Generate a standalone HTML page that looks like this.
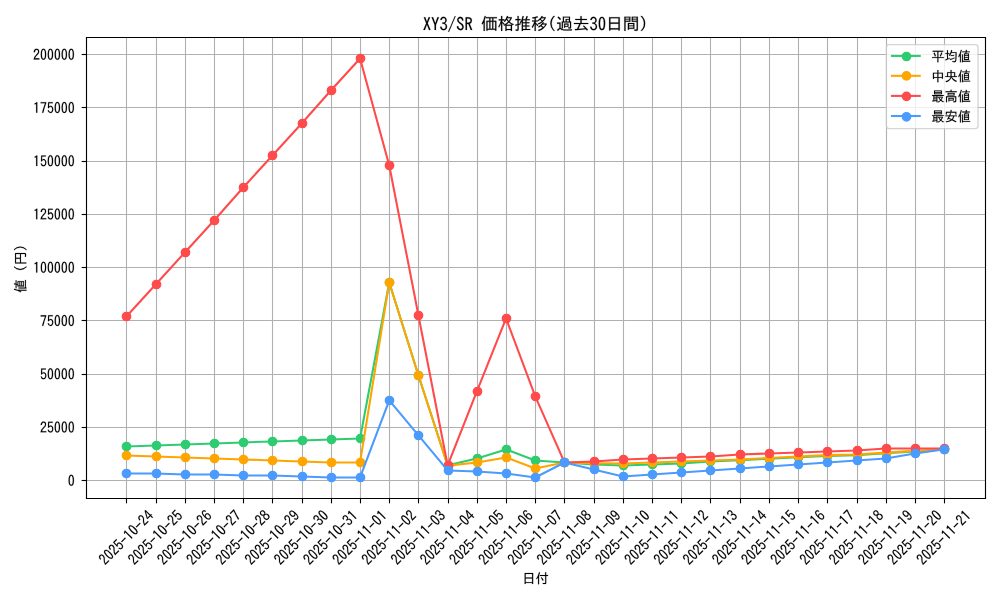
<!DOCTYPE html>
<html><head><meta charset="utf-8"><title>XY3/SR 価格推移</title>
<style>html,body{margin:0;padding:0;background:#fff;width:1000px;height:600px;overflow:hidden;font-family:"Liberation Sans",sans-serif}</style>
</head><body>
<svg width="1000" height="600" viewBox="0 0 720 432" style="display:block"> <defs> <style type="text/css">*{stroke-linejoin: round; stroke-linecap: butt}</style> </defs> <g id="figure_1"> <g id="patch_1"> <path d="M 0 432 L 720 432 L 720 0 L 0 0 z " style="fill: #ffffff"/> </g> <g id="axes_1"> <g id="patch_2"> <path d="M 61.5888 358.776 L 709.2 358.776 L 709.2 26.676 L 61.5888 26.676 z " style="fill: #ffffff"/> </g> <g id="matplotlib.axis_1"> <g id="xtick_1"> <g id="line2d_1"> <path d="M 91.0800 358.9200 L 91.0800 27.0000" clip-path="url(#p0dbeb6fd4e)" style="fill: none; stroke: #b0b0b0; stroke-width: 0.8; stroke-linecap: square"/> </g> <g id="line2d_2"> <defs> <path id="m50817923cc" d="M 0 0 L 0 3.5 " style="stroke: #000000; stroke-width: 0.8"/> </defs> <g> <use href="#m50817923cc" x="91.0800" y="358.9200" style="stroke: #000000; stroke-width: 0.8"/> </g> </g> <g id="text_1" transform="translate(-0.2160 0.5760) translate(0.0000 0) scale(1.0000 1) translate(-0.0000 0)">  <g transform="translate(75.674826 406.441269) rotate(-45) scale(0.1 -0.1)"> <defs> <path id="IPAGothic-32" d="M 2900 325 L 250 325 Q 441 1553 1528 2453 Q 1963 2806 2116 3034 Q 2316 3319 2316 3706 Q 2316 4022 2175 4219 Q 1994 4494 1631 4494 Q 894 4494 825 3406 L 322 3406 Q 359 4056 628 4428 Q 981 4928 1644 4928 Q 2106 4928 2425 4659 Q 2828 4313 2828 3713 Q 2828 2875 1881 2156 Q 1072 1541 909 800 L 2900 800 L 2900 325 z " transform="scale(0.015625)" style="stroke:#000;stroke-width:70;stroke-linejoin:miter"/> <path id="IPAGothic-30" d="M 1600 4934 Q 2844 4934 2844 2566 Q 2844 197 1600 197 Q 359 197 359 2566 Q 359 4934 1600 4934 z M 1594 4494 Q 884 4494 884 2566 Q 884 638 1600 638 Q 2319 638 2319 2572 Q 2319 4494 1594 4494 z" transform="scale(0.015625)" style="stroke:#000;stroke-width:70;stroke-linejoin:miter"/> <path id="IPAGothic-35" d="M 566 4806 L 2691 4806 L 2691 4359 L 1013 4359 L 944 2888 Q 1259 3250 1738 3250 Q 2250 3250 2588 2816 Q 2909 2397 2909 1772 Q 2909 1238 2697 844 Q 2341 197 1591 197 Q 538 197 328 1375 L 841 1375 Q 947 644 1588 644 Q 2000 644 2228 997 Q 2422 1294 2422 1766 Q 2422 2184 2259 2456 Q 2059 2822 1653 2822 Q 1156 2822 859 2225 L 456 2309 L 566 4806 z " transform="scale(0.015625)" style="stroke:#000;stroke-width:70;stroke-linejoin:miter"/> <path id="IPAGothic-2d" d="M 313 2663 L 2884 2663 L 2884 2203 L 313 2203 L 313 2663 z " transform="scale(0.015625)" style="stroke:#000;stroke-width:70;stroke-linejoin:miter"/> <path id="IPAGothic-31" d="M 1428 325 L 1428 4153 Q 1188 3991 756 3809 L 756 4325 Q 1256 4509 1563 4806 L 1953 4806 L 1953 325 L 1428 325 z " transform="scale(0.015625)" style="stroke:#000;stroke-width:70;stroke-linejoin:miter"/> <path id="IPAGothic-34" d="M 1966 4806 L 2509 4806 L 2509 1869 L 3041 1869 L 3041 1434 L 2509 1434 L 2509 325 L 2034 325 L 2034 1434 L 159 1434 L 159 1881 L 1966 4806 z M 2034 4109 L 641 1869 L 2034 1869 L 2034 4109 z " transform="scale(0.015625)" style="stroke:#000;stroke-width:70;stroke-linejoin:miter"/> </defs> <use href="#IPAGothic-32" transform="translate(0 -6.553) scale(1 1.0850)"/> <use href="#IPAGothic-30" transform="translate(50 0) translate(0 -6.553) scale(1 1.0850)"/> <use href="#IPAGothic-32" transform="translate(100 0) translate(0 -6.553) scale(1 1.0850)"/> <use href="#IPAGothic-35" transform="translate(150 0) translate(0 -6.553) scale(1 1.0850)"/> <use href="#IPAGothic-2d" transform="translate(200 0) translate(0 -6.553) scale(1 1.0850)"/> <use href="#IPAGothic-31" transform="translate(250 0) translate(0 -6.553) scale(1 1.0850)"/> <use href="#IPAGothic-30" transform="translate(300 0) translate(0 -6.553) scale(1 1.0850)"/> <use href="#IPAGothic-2d" transform="translate(350 0) translate(0 -6.553) scale(1 1.0850)"/> <use href="#IPAGothic-32" transform="translate(400 0) translate(0 -6.553) scale(1 1.0850)"/> <use href="#IPAGothic-34" transform="translate(450 0) translate(0 -6.553) scale(1 1.0850)"/> </g> </g> </g> <g id="xtick_2"> <g id="line2d_3"> <path d="M 112.6800 358.9200 L 112.6800 27.0000" clip-path="url(#p0dbeb6fd4e)" style="fill: none; stroke: #b0b0b0; stroke-width: 0.8; stroke-linecap: square"/> </g> <g id="line2d_4"> <g> <use href="#m50817923cc" x="112.6800" y="358.9200" style="stroke: #000000; stroke-width: 0.8"/> </g> </g> <g id="text_2" transform="translate(-0.2160 0.5760) translate(0.0000 0) scale(1.0000 1) translate(-0.0000 0)">  <g transform="translate(96.701164 406.441269) rotate(-45) scale(0.1 -0.1)"> <use href="#IPAGothic-32" transform="translate(0 -6.553) scale(1 1.0850)"/> <use href="#IPAGothic-30" transform="translate(50 0) translate(0 -6.553) scale(1 1.0850)"/> <use href="#IPAGothic-32" transform="translate(100 0) translate(0 -6.553) scale(1 1.0850)"/> <use href="#IPAGothic-35" transform="translate(150 0) translate(0 -6.553) scale(1 1.0850)"/> <use href="#IPAGothic-2d" transform="translate(200 0) translate(0 -6.553) scale(1 1.0850)"/> <use href="#IPAGothic-31" transform="translate(250 0) translate(0 -6.553) scale(1 1.0850)"/> <use href="#IPAGothic-30" transform="translate(300 0) translate(0 -6.553) scale(1 1.0850)"/> <use href="#IPAGothic-2d" transform="translate(350 0) translate(0 -6.553) scale(1 1.0850)"/> <use href="#IPAGothic-32" transform="translate(400 0) translate(0 -6.553) scale(1 1.0850)"/> <use href="#IPAGothic-35" transform="translate(450 0) translate(0 -6.553) scale(1 1.0850)"/> </g> </g> </g> <g id="xtick_3"> <g id="line2d_5"> <path d="M 133.5600 358.9200 L 133.5600 27.0000" clip-path="url(#p0dbeb6fd4e)" style="fill: none; stroke: #b0b0b0; stroke-width: 0.8; stroke-linecap: square"/> </g> <g id="line2d_6"> <g> <use href="#m50817923cc" x="133.5600" y="358.9200" style="stroke: #000000; stroke-width: 0.8"/> </g> </g> <g id="text_3" transform="translate(-0.2160 0.5760) translate(0.0000 0) scale(1.0000 1) translate(-0.0000 0)">  <g transform="translate(117.727502 406.441269) rotate(-45) scale(0.1 -0.1)"> <defs> <path id="IPAGothic-36" d="M 2322 3809 Q 2225 4488 1713 4488 Q 1269 4488 1028 3950 Q 803 3447 794 2588 Q 1159 3119 1725 3119 Q 2194 3119 2519 2772 Q 2903 2369 2903 1709 Q 2903 1159 2641 750 Q 2284 200 1638 200 Q 1050 200 697 738 Q 319 1328 319 2375 Q 319 3488 650 4172 Q 1028 4934 1706 4934 Q 2634 4934 2847 3809 L 2322 3809 z M 1644 2703 Q 1272 2703 1047 2363 Q 875 2094 875 1691 Q 875 1328 997 1075 Q 1209 641 1650 641 Q 2003 641 2219 959 Q 2409 1241 2409 1697 Q 2409 2113 2244 2375 Q 2041 2703 1644 2703 z " transform="scale(0.015625)" style="stroke:#000;stroke-width:70;stroke-linejoin:miter"/> </defs> <use href="#IPAGothic-32" transform="translate(0 -6.553) scale(1 1.0850)"/> <use href="#IPAGothic-30" transform="translate(50 0) translate(0 -6.553) scale(1 1.0850)"/> <use href="#IPAGothic-32" transform="translate(100 0) translate(0 -6.553) scale(1 1.0850)"/> <use href="#IPAGothic-35" transform="translate(150 0) translate(0 -6.553) scale(1 1.0850)"/> <use href="#IPAGothic-2d" transform="translate(200 0) translate(0 -6.553) scale(1 1.0850)"/> <use href="#IPAGothic-31" transform="translate(250 0) translate(0 -6.553) scale(1 1.0850)"/> <use href="#IPAGothic-30" transform="translate(300 0) translate(0 -6.553) scale(1 1.0850)"/> <use href="#IPAGothic-2d" transform="translate(350 0) translate(0 -6.553) scale(1 1.0850)"/> <use href="#IPAGothic-32" transform="translate(400 0) translate(0 -6.553) scale(1 1.0850)"/> <use href="#IPAGothic-36" transform="translate(450 0) translate(0 -6.553) scale(1 1.0850)"/> </g> </g> </g> <g id="xtick_4"> <g id="line2d_7"> <path d="M 154.4400 358.9200 L 154.4400 27.0000" clip-path="url(#p0dbeb6fd4e)" style="fill: none; stroke: #b0b0b0; stroke-width: 0.8; stroke-linecap: square"/> </g> <g id="line2d_8"> <g> <use href="#m50817923cc" x="154.4400" y="358.9200" style="stroke: #000000; stroke-width: 0.8"/> </g> </g> <g id="text_4" transform="translate(-0.2160 0.5760) translate(0.0000 0) scale(1.0000 1) translate(-0.0000 0)">  <g transform="translate(138.753839 406.441269) rotate(-45) scale(0.1 -0.1)"> <defs> <path id="IPAGothic-37" d="M 319 4806 L 2878 4806 L 2878 4441 Q 1978 2213 1528 325 L 947 325 Q 1434 2050 2328 4319 L 319 4319 L 319 4806 z " transform="scale(0.015625)" style="stroke:#000;stroke-width:70;stroke-linejoin:miter"/> </defs> <use href="#IPAGothic-32" transform="translate(0 -6.553) scale(1 1.0850)"/> <use href="#IPAGothic-30" transform="translate(50 0) translate(0 -6.553) scale(1 1.0850)"/> <use href="#IPAGothic-32" transform="translate(100 0) translate(0 -6.553) scale(1 1.0850)"/> <use href="#IPAGothic-35" transform="translate(150 0) translate(0 -6.553) scale(1 1.0850)"/> <use href="#IPAGothic-2d" transform="translate(200 0) translate(0 -6.553) scale(1 1.0850)"/> <use href="#IPAGothic-31" transform="translate(250 0) translate(0 -6.553) scale(1 1.0850)"/> <use href="#IPAGothic-30" transform="translate(300 0) translate(0 -6.553) scale(1 1.0850)"/> <use href="#IPAGothic-2d" transform="translate(350 0) translate(0 -6.553) scale(1 1.0850)"/> <use href="#IPAGothic-32" transform="translate(400 0) translate(0 -6.553) scale(1 1.0850)"/> <use href="#IPAGothic-37" transform="translate(450 0) translate(0 -6.553) scale(1 1.0850)"/> </g> </g> </g> <g id="xtick_5"> <g id="line2d_9"> <path d="M 175.3200 358.9200 L 175.3200 27.0000" clip-path="url(#p0dbeb6fd4e)" style="fill: none; stroke: #b0b0b0; stroke-width: 0.8; stroke-linecap: square"/> </g> <g id="line2d_10"> <g> <use href="#m50817923cc" x="175.3200" y="358.9200" style="stroke: #000000; stroke-width: 0.8"/> </g> </g> <g id="text_5" transform="translate(-0.2160 0.5760) translate(0.0000 0) scale(1.0000 1) translate(-0.0000 0)">  <g transform="translate(159.780177 406.441269) rotate(-45) scale(0.1 -0.1)"> <defs> <path id="IPAGothic-38" d="M 1050 2741 Q 403 3056 403 3750 Q 403 4084 563 4359 Q 900 4934 1600 4934 Q 1950 4934 2253 4750 Q 2797 4416 2797 3750 Q 2797 3056 2150 2741 Q 2978 2422 2978 1541 Q 2978 1038 2697 678 Q 2322 197 1600 197 Q 988 197 616 550 Q 225 922 225 1541 Q 225 2422 1050 2741 z M 1600 4525 Q 1278 4525 1075 4294 Q 891 4078 891 3756 Q 891 3544 969 3372 Q 1159 2956 1606 2956 Q 1863 2956 2041 3116 Q 2309 3347 2309 3756 Q 2309 4156 2041 4378 Q 1856 4525 1600 4525 z M 1594 2497 Q 1178 2497 931 2191 Q 725 1925 725 1541 Q 725 1172 925 925 Q 1172 619 1600 619 Q 2031 619 2281 925 Q 2478 1172 2478 1541 Q 2478 2022 2184 2278 Q 1947 2497 1594 2497 z " transform="scale(0.015625)" style="stroke:#000;stroke-width:70;stroke-linejoin:miter"/> </defs> <use href="#IPAGothic-32" transform="translate(0 -6.553) scale(1 1.0850)"/> <use href="#IPAGothic-30" transform="translate(50 0) translate(0 -6.553) scale(1 1.0850)"/> <use href="#IPAGothic-32" transform="translate(100 0) translate(0 -6.553) scale(1 1.0850)"/> <use href="#IPAGothic-35" transform="translate(150 0) translate(0 -6.553) scale(1 1.0850)"/> <use href="#IPAGothic-2d" transform="translate(200 0) translate(0 -6.553) scale(1 1.0850)"/> <use href="#IPAGothic-31" transform="translate(250 0) translate(0 -6.553) scale(1 1.0850)"/> <use href="#IPAGothic-30" transform="translate(300 0) translate(0 -6.553) scale(1 1.0850)"/> <use href="#IPAGothic-2d" transform="translate(350 0) translate(0 -6.553) scale(1 1.0850)"/> <use href="#IPAGothic-32" transform="translate(400 0) translate(0 -6.553) scale(1 1.0850)"/> <use href="#IPAGothic-38" transform="translate(450 0) translate(0 -6.553) scale(1 1.0850)"/> </g> </g> </g> <g id="xtick_6"> <g id="line2d_11"> <path d="M 196.2000 358.9200 L 196.2000 27.0000" clip-path="url(#p0dbeb6fd4e)" style="fill: none; stroke: #b0b0b0; stroke-width: 0.8; stroke-linecap: square"/> </g> <g id="line2d_12"> <g> <use href="#m50817923cc" x="196.2000" y="358.9200" style="stroke: #000000; stroke-width: 0.8"/> </g> </g> <g id="text_6" transform="translate(-0.2160 0.5760) translate(0.0000 0) scale(1.0000 1) translate(-0.0000 0)">  <g transform="translate(180.806515 406.441269) rotate(-45) scale(0.1 -0.1)"> <defs> <path id="IPAGothic-39" d="M 909 1363 Q 988 666 1569 666 Q 2431 666 2422 2500 Q 2063 1972 1519 1972 Q 859 1972 531 2588 Q 347 2947 347 3419 Q 347 4019 672 4459 Q 1022 4934 1569 4934 Q 2888 4934 2888 2706 Q 2888 197 1575 197 Q 975 197 628 716 Q 450 984 384 1363 L 909 1363 z M 1591 4494 Q 834 4494 834 3431 Q 834 3038 969 2778 Q 1169 2394 1591 2394 Q 1859 2394 2069 2631 Q 2338 2938 2338 3431 Q 2338 3925 2125 4213 Q 1922 4494 1591 4494 z " transform="scale(0.015625)" style="stroke:#000;stroke-width:70;stroke-linejoin:miter"/> </defs> <use href="#IPAGothic-32" transform="translate(0 -6.553) scale(1 1.0850)"/> <use href="#IPAGothic-30" transform="translate(50 0) translate(0 -6.553) scale(1 1.0850)"/> <use href="#IPAGothic-32" transform="translate(100 0) translate(0 -6.553) scale(1 1.0850)"/> <use href="#IPAGothic-35" transform="translate(150 0) translate(0 -6.553) scale(1 1.0850)"/> <use href="#IPAGothic-2d" transform="translate(200 0) translate(0 -6.553) scale(1 1.0850)"/> <use href="#IPAGothic-31" transform="translate(250 0) translate(0 -6.553) scale(1 1.0850)"/> <use href="#IPAGothic-30" transform="translate(300 0) translate(0 -6.553) scale(1 1.0850)"/> <use href="#IPAGothic-2d" transform="translate(350 0) translate(0 -6.553) scale(1 1.0850)"/> <use href="#IPAGothic-32" transform="translate(400 0) translate(0 -6.553) scale(1 1.0850)"/> <use href="#IPAGothic-39" transform="translate(450 0) translate(0 -6.553) scale(1 1.0850)"/> </g> </g> </g> <g id="xtick_7"> <g id="line2d_13"> <path d="M 217.8000 358.9200 L 217.8000 27.0000" clip-path="url(#p0dbeb6fd4e)" style="fill: none; stroke: #b0b0b0; stroke-width: 0.8; stroke-linecap: square"/> </g> <g id="line2d_14"> <g> <use href="#m50817923cc" x="217.8000" y="358.9200" style="stroke: #000000; stroke-width: 0.8"/> </g> </g> <g id="text_7" transform="translate(-0.2160 0.5760) translate(0.0000 0) scale(1.0000 1) translate(-0.0000 0)">  <g transform="translate(201.832852 406.441269) rotate(-45) scale(0.1 -0.1)"> <defs> <path id="IPAGothic-33" d="M 1113 2931 L 1431 2931 Q 1841 2931 1994 3047 Q 2281 3269 2281 3713 Q 2281 4500 1566 4500 Q 972 4500 838 3828 L 331 3828 Q 400 4250 625 4525 Q 969 4934 1566 4934 Q 2066 4934 2391 4647 Q 2775 4309 2775 3731 Q 2775 2953 2078 2713 Q 2919 2388 2919 1528 Q 2919 978 2606 625 Q 2231 197 1575 197 Q 959 197 594 619 Q 325 928 269 1472 L 794 1472 Q 859 638 1575 638 Q 1906 638 2131 825 Q 2413 1066 2413 1528 Q 2413 2522 1431 2522 L 1113 2522 L 1113 2931 z " transform="scale(0.015625)" style="stroke:#000;stroke-width:70;stroke-linejoin:miter"/> </defs> <use href="#IPAGothic-32" transform="translate(0 -6.553) scale(1 1.0850)"/> <use href="#IPAGothic-30" transform="translate(50 0) translate(0 -6.553) scale(1 1.0850)"/> <use href="#IPAGothic-32" transform="translate(100 0) translate(0 -6.553) scale(1 1.0850)"/> <use href="#IPAGothic-35" transform="translate(150 0) translate(0 -6.553) scale(1 1.0850)"/> <use href="#IPAGothic-2d" transform="translate(200 0) translate(0 -6.553) scale(1 1.0850)"/> <use href="#IPAGothic-31" transform="translate(250 0) translate(0 -6.553) scale(1 1.0850)"/> <use href="#IPAGothic-30" transform="translate(300 0) translate(0 -6.553) scale(1 1.0850)"/> <use href="#IPAGothic-2d" transform="translate(350 0) translate(0 -6.553) scale(1 1.0850)"/> <use href="#IPAGothic-33" transform="translate(400 0) translate(0 -6.553) scale(1 1.0850)"/> <use href="#IPAGothic-30" transform="translate(450 0) translate(0 -6.553) scale(1 1.0850)"/> </g> </g> </g> <g id="xtick_8"> <g id="line2d_15"> <path d="M 238.6800 358.9200 L 238.6800 27.0000" clip-path="url(#p0dbeb6fd4e)" style="fill: none; stroke: #b0b0b0; stroke-width: 0.8; stroke-linecap: square"/> </g> <g id="line2d_16"> <g> <use href="#m50817923cc" x="238.6800" y="358.9200" style="stroke: #000000; stroke-width: 0.8"/> </g> </g> <g id="text_8" transform="translate(-0.2160 0.5760) translate(0.0000 0) scale(1.0000 1) translate(-0.0000 0)">  <g transform="translate(222.85919 406.441269) rotate(-45) scale(0.1 -0.1)"> <use href="#IPAGothic-32" transform="translate(0 -6.553) scale(1 1.0850)"/> <use href="#IPAGothic-30" transform="translate(50 0) translate(0 -6.553) scale(1 1.0850)"/> <use href="#IPAGothic-32" transform="translate(100 0) translate(0 -6.553) scale(1 1.0850)"/> <use href="#IPAGothic-35" transform="translate(150 0) translate(0 -6.553) scale(1 1.0850)"/> <use href="#IPAGothic-2d" transform="translate(200 0) translate(0 -6.553) scale(1 1.0850)"/> <use href="#IPAGothic-31" transform="translate(250 0) translate(0 -6.553) scale(1 1.0850)"/> <use href="#IPAGothic-30" transform="translate(300 0) translate(0 -6.553) scale(1 1.0850)"/> <use href="#IPAGothic-2d" transform="translate(350 0) translate(0 -6.553) scale(1 1.0850)"/> <use href="#IPAGothic-33" transform="translate(400 0) translate(0 -6.553) scale(1 1.0850)"/> <use href="#IPAGothic-31" transform="translate(450 0) translate(0 -6.553) scale(1 1.0850)"/> </g> </g> </g> <g id="xtick_9"> <g id="line2d_17"> <path d="M 259.5600 358.9200 L 259.5600 27.0000" clip-path="url(#p0dbeb6fd4e)" style="fill: none; stroke: #b0b0b0; stroke-width: 0.8; stroke-linecap: square"/> </g> <g id="line2d_18"> <g> <use href="#m50817923cc" x="259.5600" y="358.9200" style="stroke: #000000; stroke-width: 0.8"/> </g> </g> <g id="text_9" transform="translate(-0.2160 0.5760) translate(0.0000 0) scale(1.0000 1) translate(-0.0000 0)">  <g transform="translate(243.885528 406.441269) rotate(-45) scale(0.1 -0.1)"> <use href="#IPAGothic-32" transform="translate(0 -6.553) scale(1 1.0850)"/> <use href="#IPAGothic-30" transform="translate(50 0) translate(0 -6.553) scale(1 1.0850)"/> <use href="#IPAGothic-32" transform="translate(100 0) translate(0 -6.553) scale(1 1.0850)"/> <use href="#IPAGothic-35" transform="translate(150 0) translate(0 -6.553) scale(1 1.0850)"/> <use href="#IPAGothic-2d" transform="translate(200 0) translate(0 -6.553) scale(1 1.0850)"/> <use href="#IPAGothic-31" transform="translate(250 0) translate(0 -6.553) scale(1 1.0850)"/> <use href="#IPAGothic-31" transform="translate(300 0) translate(0 -6.553) scale(1 1.0850)"/> <use href="#IPAGothic-2d" transform="translate(350 0) translate(0 -6.553) scale(1 1.0850)"/> <use href="#IPAGothic-30" transform="translate(400 0) translate(0 -6.553) scale(1 1.0850)"/> <use href="#IPAGothic-31" transform="translate(450 0) translate(0 -6.553) scale(1 1.0850)"/> </g> </g> </g> <g id="xtick_10"> <g id="line2d_19"> <path d="M 280.4400 358.9200 L 280.4400 27.0000" clip-path="url(#p0dbeb6fd4e)" style="fill: none; stroke: #b0b0b0; stroke-width: 0.8; stroke-linecap: square"/> </g> <g id="line2d_20"> <g> <use href="#m50817923cc" x="280.4400" y="358.9200" style="stroke: #000000; stroke-width: 0.8"/> </g> </g> <g id="text_10" transform="translate(-0.2160 0.5760) translate(0.0000 0) scale(1.0000 1) translate(-0.0000 0)">  <g transform="translate(264.911865 406.441269) rotate(-45) scale(0.1 -0.1)"> <use href="#IPAGothic-32" transform="translate(0 -6.553) scale(1 1.0850)"/> <use href="#IPAGothic-30" transform="translate(50 0) translate(0 -6.553) scale(1 1.0850)"/> <use href="#IPAGothic-32" transform="translate(100 0) translate(0 -6.553) scale(1 1.0850)"/> <use href="#IPAGothic-35" transform="translate(150 0) translate(0 -6.553) scale(1 1.0850)"/> <use href="#IPAGothic-2d" transform="translate(200 0) translate(0 -6.553) scale(1 1.0850)"/> <use href="#IPAGothic-31" transform="translate(250 0) translate(0 -6.553) scale(1 1.0850)"/> <use href="#IPAGothic-31" transform="translate(300 0) translate(0 -6.553) scale(1 1.0850)"/> <use href="#IPAGothic-2d" transform="translate(350 0) translate(0 -6.553) scale(1 1.0850)"/> <use href="#IPAGothic-30" transform="translate(400 0) translate(0 -6.553) scale(1 1.0850)"/> <use href="#IPAGothic-32" transform="translate(450 0) translate(0 -6.553) scale(1 1.0850)"/> </g> </g> </g> <g id="xtick_11"> <g id="line2d_21"> <path d="M 301.3200 358.9200 L 301.3200 27.0000" clip-path="url(#p0dbeb6fd4e)" style="fill: none; stroke: #b0b0b0; stroke-width: 0.8; stroke-linecap: square"/> </g> <g id="line2d_22"> <g> <use href="#m50817923cc" x="301.3200" y="358.9200" style="stroke: #000000; stroke-width: 0.8"/> </g> </g> <g id="text_11" transform="translate(-0.2160 0.5760) translate(0.0000 0) scale(1.0000 1) translate(-0.0000 0)">  <g transform="translate(285.938203 406.441269) rotate(-45) scale(0.1 -0.1)"> <use href="#IPAGothic-32" transform="translate(0 -6.553) scale(1 1.0850)"/> <use href="#IPAGothic-30" transform="translate(50 0) translate(0 -6.553) scale(1 1.0850)"/> <use href="#IPAGothic-32" transform="translate(100 0) translate(0 -6.553) scale(1 1.0850)"/> <use href="#IPAGothic-35" transform="translate(150 0) translate(0 -6.553) scale(1 1.0850)"/> <use href="#IPAGothic-2d" transform="translate(200 0) translate(0 -6.553) scale(1 1.0850)"/> <use href="#IPAGothic-31" transform="translate(250 0) translate(0 -6.553) scale(1 1.0850)"/> <use href="#IPAGothic-31" transform="translate(300 0) translate(0 -6.553) scale(1 1.0850)"/> <use href="#IPAGothic-2d" transform="translate(350 0) translate(0 -6.553) scale(1 1.0850)"/> <use href="#IPAGothic-30" transform="translate(400 0) translate(0 -6.553) scale(1 1.0850)"/> <use href="#IPAGothic-33" transform="translate(450 0) translate(0 -6.553) scale(1 1.0850)"/> </g> </g> </g> <g id="xtick_12"> <g id="line2d_23"> <path d="M 322.9200 358.9200 L 322.9200 27.0000" clip-path="url(#p0dbeb6fd4e)" style="fill: none; stroke: #b0b0b0; stroke-width: 0.8; stroke-linecap: square"/> </g> <g id="line2d_24"> <g> <use href="#m50817923cc" x="322.9200" y="358.9200" style="stroke: #000000; stroke-width: 0.8"/> </g> </g> <g id="text_12" transform="translate(-0.2160 0.5760) translate(0.0000 0) scale(1.0000 1) translate(-0.0000 0)">  <g transform="translate(306.964541 406.441269) rotate(-45) scale(0.1 -0.1)"> <use href="#IPAGothic-32" transform="translate(0 -6.553) scale(1 1.0850)"/> <use href="#IPAGothic-30" transform="translate(50 0) translate(0 -6.553) scale(1 1.0850)"/> <use href="#IPAGothic-32" transform="translate(100 0) translate(0 -6.553) scale(1 1.0850)"/> <use href="#IPAGothic-35" transform="translate(150 0) translate(0 -6.553) scale(1 1.0850)"/> <use href="#IPAGothic-2d" transform="translate(200 0) translate(0 -6.553) scale(1 1.0850)"/> <use href="#IPAGothic-31" transform="translate(250 0) translate(0 -6.553) scale(1 1.0850)"/> <use href="#IPAGothic-31" transform="translate(300 0) translate(0 -6.553) scale(1 1.0850)"/> <use href="#IPAGothic-2d" transform="translate(350 0) translate(0 -6.553) scale(1 1.0850)"/> <use href="#IPAGothic-30" transform="translate(400 0) translate(0 -6.553) scale(1 1.0850)"/> <use href="#IPAGothic-34" transform="translate(450 0) translate(0 -6.553) scale(1 1.0850)"/> </g> </g> </g> <g id="xtick_13"> <g id="line2d_25"> <path d="M 343.8000 358.9200 L 343.8000 27.0000" clip-path="url(#p0dbeb6fd4e)" style="fill: none; stroke: #b0b0b0; stroke-width: 0.8; stroke-linecap: square"/> </g> <g id="line2d_26"> <g> <use href="#m50817923cc" x="343.8000" y="358.9200" style="stroke: #000000; stroke-width: 0.8"/> </g> </g> <g id="text_13" transform="translate(-0.2160 0.5760) translate(0.0000 0) scale(1.0000 1) translate(-0.0000 0)">  <g transform="translate(327.990878 406.441269) rotate(-45) scale(0.1 -0.1)"> <use href="#IPAGothic-32" transform="translate(0 -6.553) scale(1 1.0850)"/> <use href="#IPAGothic-30" transform="translate(50 0) translate(0 -6.553) scale(1 1.0850)"/> <use href="#IPAGothic-32" transform="translate(100 0) translate(0 -6.553) scale(1 1.0850)"/> <use href="#IPAGothic-35" transform="translate(150 0) translate(0 -6.553) scale(1 1.0850)"/> <use href="#IPAGothic-2d" transform="translate(200 0) translate(0 -6.553) scale(1 1.0850)"/> <use href="#IPAGothic-31" transform="translate(250 0) translate(0 -6.553) scale(1 1.0850)"/> <use href="#IPAGothic-31" transform="translate(300 0) translate(0 -6.553) scale(1 1.0850)"/> <use href="#IPAGothic-2d" transform="translate(350 0) translate(0 -6.553) scale(1 1.0850)"/> <use href="#IPAGothic-30" transform="translate(400 0) translate(0 -6.553) scale(1 1.0850)"/> <use href="#IPAGothic-35" transform="translate(450 0) translate(0 -6.553) scale(1 1.0850)"/> </g> </g> </g> <g id="xtick_14"> <g id="line2d_27"> <path d="M 364.6800 358.9200 L 364.6800 27.0000" clip-path="url(#p0dbeb6fd4e)" style="fill: none; stroke: #b0b0b0; stroke-width: 0.8; stroke-linecap: square"/> </g> <g id="line2d_28"> <g> <use href="#m50817923cc" x="364.6800" y="358.9200" style="stroke: #000000; stroke-width: 0.8"/> </g> </g> <g id="text_14" transform="translate(-0.2160 0.5760) translate(0.0000 0) scale(1.0000 1) translate(-0.0000 0)">  <g transform="translate(349.017216 406.441269) rotate(-45) scale(0.1 -0.1)"> <use href="#IPAGothic-32" transform="translate(0 -6.553) scale(1 1.0850)"/> <use href="#IPAGothic-30" transform="translate(50 0) translate(0 -6.553) scale(1 1.0850)"/> <use href="#IPAGothic-32" transform="translate(100 0) translate(0 -6.553) scale(1 1.0850)"/> <use href="#IPAGothic-35" transform="translate(150 0) translate(0 -6.553) scale(1 1.0850)"/> <use href="#IPAGothic-2d" transform="translate(200 0) translate(0 -6.553) scale(1 1.0850)"/> <use href="#IPAGothic-31" transform="translate(250 0) translate(0 -6.553) scale(1 1.0850)"/> <use href="#IPAGothic-31" transform="translate(300 0) translate(0 -6.553) scale(1 1.0850)"/> <use href="#IPAGothic-2d" transform="translate(350 0) translate(0 -6.553) scale(1 1.0850)"/> <use href="#IPAGothic-30" transform="translate(400 0) translate(0 -6.553) scale(1 1.0850)"/> <use href="#IPAGothic-36" transform="translate(450 0) translate(0 -6.553) scale(1 1.0850)"/> </g> </g> </g> <g id="xtick_15"> <g id="line2d_29"> <path d="M 385.5600 358.9200 L 385.5600 27.0000" clip-path="url(#p0dbeb6fd4e)" style="fill: none; stroke: #b0b0b0; stroke-width: 0.8; stroke-linecap: square"/> </g> <g id="line2d_30"> <g> <use href="#m50817923cc" x="385.5600" y="358.9200" style="stroke: #000000; stroke-width: 0.8"/> </g> </g> <g id="text_15" transform="translate(-0.2160 0.5760) translate(0.0000 0) scale(1.0000 1) translate(-0.0000 0)">  <g transform="translate(370.043554 406.441269) rotate(-45) scale(0.1 -0.1)"> <use href="#IPAGothic-32" transform="translate(0 -6.553) scale(1 1.0850)"/> <use href="#IPAGothic-30" transform="translate(50 0) translate(0 -6.553) scale(1 1.0850)"/> <use href="#IPAGothic-32" transform="translate(100 0) translate(0 -6.553) scale(1 1.0850)"/> <use href="#IPAGothic-35" transform="translate(150 0) translate(0 -6.553) scale(1 1.0850)"/> <use href="#IPAGothic-2d" transform="translate(200 0) translate(0 -6.553) scale(1 1.0850)"/> <use href="#IPAGothic-31" transform="translate(250 0) translate(0 -6.553) scale(1 1.0850)"/> <use href="#IPAGothic-31" transform="translate(300 0) translate(0 -6.553) scale(1 1.0850)"/> <use href="#IPAGothic-2d" transform="translate(350 0) translate(0 -6.553) scale(1 1.0850)"/> <use href="#IPAGothic-30" transform="translate(400 0) translate(0 -6.553) scale(1 1.0850)"/> <use href="#IPAGothic-37" transform="translate(450 0) translate(0 -6.553) scale(1 1.0850)"/> </g> </g> </g> <g id="xtick_16"> <g id="line2d_31"> <path d="M 406.4400 358.9200 L 406.4400 27.0000" clip-path="url(#p0dbeb6fd4e)" style="fill: none; stroke: #b0b0b0; stroke-width: 0.8; stroke-linecap: square"/> </g> <g id="line2d_32"> <g> <use href="#m50817923cc" x="406.4400" y="358.9200" style="stroke: #000000; stroke-width: 0.8"/> </g> </g> <g id="text_16" transform="translate(-0.2160 0.5760) translate(0.0000 0) scale(1.0000 1) translate(-0.0000 0)">  <g transform="translate(391.069891 406.441269) rotate(-45) scale(0.1 -0.1)"> <use href="#IPAGothic-32" transform="translate(0 -6.553) scale(1 1.0850)"/> <use href="#IPAGothic-30" transform="translate(50 0) translate(0 -6.553) scale(1 1.0850)"/> <use href="#IPAGothic-32" transform="translate(100 0) translate(0 -6.553) scale(1 1.0850)"/> <use href="#IPAGothic-35" transform="translate(150 0) translate(0 -6.553) scale(1 1.0850)"/> <use href="#IPAGothic-2d" transform="translate(200 0) translate(0 -6.553) scale(1 1.0850)"/> <use href="#IPAGothic-31" transform="translate(250 0) translate(0 -6.553) scale(1 1.0850)"/> <use href="#IPAGothic-31" transform="translate(300 0) translate(0 -6.553) scale(1 1.0850)"/> <use href="#IPAGothic-2d" transform="translate(350 0) translate(0 -6.553) scale(1 1.0850)"/> <use href="#IPAGothic-30" transform="translate(400 0) translate(0 -6.553) scale(1 1.0850)"/> <use href="#IPAGothic-38" transform="translate(450 0) translate(0 -6.553) scale(1 1.0850)"/> </g> </g> </g> <g id="xtick_17"> <g id="line2d_33"> <path d="M 428.0400 358.9200 L 428.0400 27.0000" clip-path="url(#p0dbeb6fd4e)" style="fill: none; stroke: #b0b0b0; stroke-width: 0.8; stroke-linecap: square"/> </g> <g id="line2d_34"> <g> <use href="#m50817923cc" x="428.0400" y="358.9200" style="stroke: #000000; stroke-width: 0.8"/> </g> </g> <g id="text_17" transform="translate(-0.2160 0.5760) translate(0.0000 0) scale(1.0000 1) translate(-0.0000 0)">  <g transform="translate(412.096229 406.441269) rotate(-45) scale(0.1 -0.1)"> <use href="#IPAGothic-32" transform="translate(0 -6.553) scale(1 1.0850)"/> <use href="#IPAGothic-30" transform="translate(50 0) translate(0 -6.553) scale(1 1.0850)"/> <use href="#IPAGothic-32" transform="translate(100 0) translate(0 -6.553) scale(1 1.0850)"/> <use href="#IPAGothic-35" transform="translate(150 0) translate(0 -6.553) scale(1 1.0850)"/> <use href="#IPAGothic-2d" transform="translate(200 0) translate(0 -6.553) scale(1 1.0850)"/> <use href="#IPAGothic-31" transform="translate(250 0) translate(0 -6.553) scale(1 1.0850)"/> <use href="#IPAGothic-31" transform="translate(300 0) translate(0 -6.553) scale(1 1.0850)"/> <use href="#IPAGothic-2d" transform="translate(350 0) translate(0 -6.553) scale(1 1.0850)"/> <use href="#IPAGothic-30" transform="translate(400 0) translate(0 -6.553) scale(1 1.0850)"/> <use href="#IPAGothic-39" transform="translate(450 0) translate(0 -6.553) scale(1 1.0850)"/> </g> </g> </g> <g id="xtick_18"> <g id="line2d_35"> <path d="M 448.9200 358.9200 L 448.9200 27.0000" clip-path="url(#p0dbeb6fd4e)" style="fill: none; stroke: #b0b0b0; stroke-width: 0.8; stroke-linecap: square"/> </g> <g id="line2d_36"> <g> <use href="#m50817923cc" x="448.9200" y="358.9200" style="stroke: #000000; stroke-width: 0.8"/> </g> </g> <g id="text_18" transform="translate(-0.2160 0.5760) translate(0.0000 0) scale(1.0000 1) translate(-0.0000 0)">  <g transform="translate(433.122567 406.441269) rotate(-45) scale(0.1 -0.1)"> <use href="#IPAGothic-32" transform="translate(0 -6.553) scale(1 1.0850)"/> <use href="#IPAGothic-30" transform="translate(50 0) translate(0 -6.553) scale(1 1.0850)"/> <use href="#IPAGothic-32" transform="translate(100 0) translate(0 -6.553) scale(1 1.0850)"/> <use href="#IPAGothic-35" transform="translate(150 0) translate(0 -6.553) scale(1 1.0850)"/> <use href="#IPAGothic-2d" transform="translate(200 0) translate(0 -6.553) scale(1 1.0850)"/> <use href="#IPAGothic-31" transform="translate(250 0) translate(0 -6.553) scale(1 1.0850)"/> <use href="#IPAGothic-31" transform="translate(300 0) translate(0 -6.553) scale(1 1.0850)"/> <use href="#IPAGothic-2d" transform="translate(350 0) translate(0 -6.553) scale(1 1.0850)"/> <use href="#IPAGothic-31" transform="translate(400 0) translate(0 -6.553) scale(1 1.0850)"/> <use href="#IPAGothic-30" transform="translate(450 0) translate(0 -6.553) scale(1 1.0850)"/> </g> </g> </g> <g id="xtick_19"> <g id="line2d_37"> <path d="M 469.8000 358.9200 L 469.8000 27.0000" clip-path="url(#p0dbeb6fd4e)" style="fill: none; stroke: #b0b0b0; stroke-width: 0.8; stroke-linecap: square"/> </g> <g id="line2d_38"> <g> <use href="#m50817923cc" x="469.8000" y="358.9200" style="stroke: #000000; stroke-width: 0.8"/> </g> </g> <g id="text_19" transform="translate(-0.2160 0.5760) translate(0.0000 0) scale(1.0000 1) translate(-0.0000 0)">  <g transform="translate(454.148904 406.441269) rotate(-45) scale(0.1 -0.1)"> <use href="#IPAGothic-32" transform="translate(0 -6.553) scale(1 1.0850)"/> <use href="#IPAGothic-30" transform="translate(50 0) translate(0 -6.553) scale(1 1.0850)"/> <use href="#IPAGothic-32" transform="translate(100 0) translate(0 -6.553) scale(1 1.0850)"/> <use href="#IPAGothic-35" transform="translate(150 0) translate(0 -6.553) scale(1 1.0850)"/> <use href="#IPAGothic-2d" transform="translate(200 0) translate(0 -6.553) scale(1 1.0850)"/> <use href="#IPAGothic-31" transform="translate(250 0) translate(0 -6.553) scale(1 1.0850)"/> <use href="#IPAGothic-31" transform="translate(300 0) translate(0 -6.553) scale(1 1.0850)"/> <use href="#IPAGothic-2d" transform="translate(350 0) translate(0 -6.553) scale(1 1.0850)"/> <use href="#IPAGothic-31" transform="translate(400 0) translate(0 -6.553) scale(1 1.0850)"/> <use href="#IPAGothic-31" transform="translate(450 0) translate(0 -6.553) scale(1 1.0850)"/> </g> </g> </g> <g id="xtick_20"> <g id="line2d_39"> <path d="M 490.6800 358.9200 L 490.6800 27.0000" clip-path="url(#p0dbeb6fd4e)" style="fill: none; stroke: #b0b0b0; stroke-width: 0.8; stroke-linecap: square"/> </g> <g id="line2d_40"> <g> <use href="#m50817923cc" x="490.6800" y="358.9200" style="stroke: #000000; stroke-width: 0.8"/> </g> </g> <g id="text_20" transform="translate(-0.2160 0.5760) translate(0.0000 0) scale(1.0000 1) translate(-0.0000 0)">  <g transform="translate(475.175242 406.441269) rotate(-45) scale(0.1 -0.1)"> <use href="#IPAGothic-32" transform="translate(0 -6.553) scale(1 1.0850)"/> <use href="#IPAGothic-30" transform="translate(50 0) translate(0 -6.553) scale(1 1.0850)"/> <use href="#IPAGothic-32" transform="translate(100 0) translate(0 -6.553) scale(1 1.0850)"/> <use href="#IPAGothic-35" transform="translate(150 0) translate(0 -6.553) scale(1 1.0850)"/> <use href="#IPAGothic-2d" transform="translate(200 0) translate(0 -6.553) scale(1 1.0850)"/> <use href="#IPAGothic-31" transform="translate(250 0) translate(0 -6.553) scale(1 1.0850)"/> <use href="#IPAGothic-31" transform="translate(300 0) translate(0 -6.553) scale(1 1.0850)"/> <use href="#IPAGothic-2d" transform="translate(350 0) translate(0 -6.553) scale(1 1.0850)"/> <use href="#IPAGothic-31" transform="translate(400 0) translate(0 -6.553) scale(1 1.0850)"/> <use href="#IPAGothic-32" transform="translate(450 0) translate(0 -6.553) scale(1 1.0850)"/> </g> </g> </g> <g id="xtick_21"> <g id="line2d_41"> <path d="M 511.5600 358.9200 L 511.5600 27.0000" clip-path="url(#p0dbeb6fd4e)" style="fill: none; stroke: #b0b0b0; stroke-width: 0.8; stroke-linecap: square"/> </g> <g id="line2d_42"> <g> <use href="#m50817923cc" x="511.5600" y="358.9200" style="stroke: #000000; stroke-width: 0.8"/> </g> </g> <g id="text_21" transform="translate(-0.2160 0.5760) translate(0.0000 0) scale(1.0000 1) translate(-0.0000 0)">  <g transform="translate(496.20158 406.441269) rotate(-45) scale(0.1 -0.1)"> <use href="#IPAGothic-32" transform="translate(0 -6.553) scale(1 1.0850)"/> <use href="#IPAGothic-30" transform="translate(50 0) translate(0 -6.553) scale(1 1.0850)"/> <use href="#IPAGothic-32" transform="translate(100 0) translate(0 -6.553) scale(1 1.0850)"/> <use href="#IPAGothic-35" transform="translate(150 0) translate(0 -6.553) scale(1 1.0850)"/> <use href="#IPAGothic-2d" transform="translate(200 0) translate(0 -6.553) scale(1 1.0850)"/> <use href="#IPAGothic-31" transform="translate(250 0) translate(0 -6.553) scale(1 1.0850)"/> <use href="#IPAGothic-31" transform="translate(300 0) translate(0 -6.553) scale(1 1.0850)"/> <use href="#IPAGothic-2d" transform="translate(350 0) translate(0 -6.553) scale(1 1.0850)"/> <use href="#IPAGothic-31" transform="translate(400 0) translate(0 -6.553) scale(1 1.0850)"/> <use href="#IPAGothic-33" transform="translate(450 0) translate(0 -6.553) scale(1 1.0850)"/> </g> </g> </g> <g id="xtick_22"> <g id="line2d_43"> <path d="M 533.1600 358.9200 L 533.1600 27.0000" clip-path="url(#p0dbeb6fd4e)" style="fill: none; stroke: #b0b0b0; stroke-width: 0.8; stroke-linecap: square"/> </g> <g id="line2d_44"> <g> <use href="#m50817923cc" x="533.1600" y="358.9200" style="stroke: #000000; stroke-width: 0.8"/> </g> </g> <g id="text_22" transform="translate(-0.2160 0.5760) translate(0.0000 0) scale(1.0000 1) translate(-0.0000 0)">  <g transform="translate(517.227917 406.441269) rotate(-45) scale(0.1 -0.1)"> <use href="#IPAGothic-32" transform="translate(0 -6.553) scale(1 1.0850)"/> <use href="#IPAGothic-30" transform="translate(50 0) translate(0 -6.553) scale(1 1.0850)"/> <use href="#IPAGothic-32" transform="translate(100 0) translate(0 -6.553) scale(1 1.0850)"/> <use href="#IPAGothic-35" transform="translate(150 0) translate(0 -6.553) scale(1 1.0850)"/> <use href="#IPAGothic-2d" transform="translate(200 0) translate(0 -6.553) scale(1 1.0850)"/> <use href="#IPAGothic-31" transform="translate(250 0) translate(0 -6.553) scale(1 1.0850)"/> <use href="#IPAGothic-31" transform="translate(300 0) translate(0 -6.553) scale(1 1.0850)"/> <use href="#IPAGothic-2d" transform="translate(350 0) translate(0 -6.553) scale(1 1.0850)"/> <use href="#IPAGothic-31" transform="translate(400 0) translate(0 -6.553) scale(1 1.0850)"/> <use href="#IPAGothic-34" transform="translate(450 0) translate(0 -6.553) scale(1 1.0850)"/> </g> </g> </g> <g id="xtick_23"> <g id="line2d_45"> <path d="M 554.0400 358.9200 L 554.0400 27.0000" clip-path="url(#p0dbeb6fd4e)" style="fill: none; stroke: #b0b0b0; stroke-width: 0.8; stroke-linecap: square"/> </g> <g id="line2d_46"> <g> <use href="#m50817923cc" x="554.0400" y="358.9200" style="stroke: #000000; stroke-width: 0.8"/> </g> </g> <g id="text_23" transform="translate(-0.2160 0.5760) translate(0.0000 0) scale(1.0000 1) translate(-0.0000 0)">  <g transform="translate(538.254255 406.441269) rotate(-45) scale(0.1 -0.1)"> <use href="#IPAGothic-32" transform="translate(0 -6.553) scale(1 1.0850)"/> <use href="#IPAGothic-30" transform="translate(50 0) translate(0 -6.553) scale(1 1.0850)"/> <use href="#IPAGothic-32" transform="translate(100 0) translate(0 -6.553) scale(1 1.0850)"/> <use href="#IPAGothic-35" transform="translate(150 0) translate(0 -6.553) scale(1 1.0850)"/> <use href="#IPAGothic-2d" transform="translate(200 0) translate(0 -6.553) scale(1 1.0850)"/> <use href="#IPAGothic-31" transform="translate(250 0) translate(0 -6.553) scale(1 1.0850)"/> <use href="#IPAGothic-31" transform="translate(300 0) translate(0 -6.553) scale(1 1.0850)"/> <use href="#IPAGothic-2d" transform="translate(350 0) translate(0 -6.553) scale(1 1.0850)"/> <use href="#IPAGothic-31" transform="translate(400 0) translate(0 -6.553) scale(1 1.0850)"/> <use href="#IPAGothic-35" transform="translate(450 0) translate(0 -6.553) scale(1 1.0850)"/> </g> </g> </g> <g id="xtick_24"> <g id="line2d_47"> <path d="M 574.9200 358.9200 L 574.9200 27.0000" clip-path="url(#p0dbeb6fd4e)" style="fill: none; stroke: #b0b0b0; stroke-width: 0.8; stroke-linecap: square"/> </g> <g id="line2d_48"> <g> <use href="#m50817923cc" x="574.9200" y="358.9200" style="stroke: #000000; stroke-width: 0.8"/> </g> </g> <g id="text_24" transform="translate(-0.2160 0.5760) translate(0.0000 0) scale(1.0000 1) translate(-0.0000 0)">  <g transform="translate(559.280593 406.441269) rotate(-45) scale(0.1 -0.1)"> <use href="#IPAGothic-32" transform="translate(0 -6.553) scale(1 1.0850)"/> <use href="#IPAGothic-30" transform="translate(50 0) translate(0 -6.553) scale(1 1.0850)"/> <use href="#IPAGothic-32" transform="translate(100 0) translate(0 -6.553) scale(1 1.0850)"/> <use href="#IPAGothic-35" transform="translate(150 0) translate(0 -6.553) scale(1 1.0850)"/> <use href="#IPAGothic-2d" transform="translate(200 0) translate(0 -6.553) scale(1 1.0850)"/> <use href="#IPAGothic-31" transform="translate(250 0) translate(0 -6.553) scale(1 1.0850)"/> <use href="#IPAGothic-31" transform="translate(300 0) translate(0 -6.553) scale(1 1.0850)"/> <use href="#IPAGothic-2d" transform="translate(350 0) translate(0 -6.553) scale(1 1.0850)"/> <use href="#IPAGothic-31" transform="translate(400 0) translate(0 -6.553) scale(1 1.0850)"/> <use href="#IPAGothic-36" transform="translate(450 0) translate(0 -6.553) scale(1 1.0850)"/> </g> </g> </g> <g id="xtick_25"> <g id="line2d_49"> <path d="M 595.8000 358.9200 L 595.8000 27.0000" clip-path="url(#p0dbeb6fd4e)" style="fill: none; stroke: #b0b0b0; stroke-width: 0.8; stroke-linecap: square"/> </g> <g id="line2d_50"> <g> <use href="#m50817923cc" x="595.8000" y="358.9200" style="stroke: #000000; stroke-width: 0.8"/> </g> </g> <g id="text_25" transform="translate(-0.2160 0.5760) translate(0.0000 0) scale(1.0000 1) translate(-0.0000 0)">  <g transform="translate(580.30693 406.441269) rotate(-45) scale(0.1 -0.1)"> <use href="#IPAGothic-32" transform="translate(0 -6.553) scale(1 1.0850)"/> <use href="#IPAGothic-30" transform="translate(50 0) translate(0 -6.553) scale(1 1.0850)"/> <use href="#IPAGothic-32" transform="translate(100 0) translate(0 -6.553) scale(1 1.0850)"/> <use href="#IPAGothic-35" transform="translate(150 0) translate(0 -6.553) scale(1 1.0850)"/> <use href="#IPAGothic-2d" transform="translate(200 0) translate(0 -6.553) scale(1 1.0850)"/> <use href="#IPAGothic-31" transform="translate(250 0) translate(0 -6.553) scale(1 1.0850)"/> <use href="#IPAGothic-31" transform="translate(300 0) translate(0 -6.553) scale(1 1.0850)"/> <use href="#IPAGothic-2d" transform="translate(350 0) translate(0 -6.553) scale(1 1.0850)"/> <use href="#IPAGothic-31" transform="translate(400 0) translate(0 -6.553) scale(1 1.0850)"/> <use href="#IPAGothic-37" transform="translate(450 0) translate(0 -6.553) scale(1 1.0850)"/> </g> </g> </g> <g id="xtick_26"> <g id="line2d_51"> <path d="M 617.4000 358.9200 L 617.4000 27.0000" clip-path="url(#p0dbeb6fd4e)" style="fill: none; stroke: #b0b0b0; stroke-width: 0.8; stroke-linecap: square"/> </g> <g id="line2d_52"> <g> <use href="#m50817923cc" x="617.4000" y="358.9200" style="stroke: #000000; stroke-width: 0.8"/> </g> </g> <g id="text_26" transform="translate(-0.2160 0.5760) translate(0.0000 0) scale(1.0000 1) translate(-0.0000 0)">  <g transform="translate(601.333268 406.441269) rotate(-45) scale(0.1 -0.1)"> <use href="#IPAGothic-32" transform="translate(0 -6.553) scale(1 1.0850)"/> <use href="#IPAGothic-30" transform="translate(50 0) translate(0 -6.553) scale(1 1.0850)"/> <use href="#IPAGothic-32" transform="translate(100 0) translate(0 -6.553) scale(1 1.0850)"/> <use href="#IPAGothic-35" transform="translate(150 0) translate(0 -6.553) scale(1 1.0850)"/> <use href="#IPAGothic-2d" transform="translate(200 0) translate(0 -6.553) scale(1 1.0850)"/> <use href="#IPAGothic-31" transform="translate(250 0) translate(0 -6.553) scale(1 1.0850)"/> <use href="#IPAGothic-31" transform="translate(300 0) translate(0 -6.553) scale(1 1.0850)"/> <use href="#IPAGothic-2d" transform="translate(350 0) translate(0 -6.553) scale(1 1.0850)"/> <use href="#IPAGothic-31" transform="translate(400 0) translate(0 -6.553) scale(1 1.0850)"/> <use href="#IPAGothic-38" transform="translate(450 0) translate(0 -6.553) scale(1 1.0850)"/> </g> </g> </g> <g id="xtick_27"> <g id="line2d_53"> <path d="M 638.2800 358.9200 L 638.2800 27.0000" clip-path="url(#p0dbeb6fd4e)" style="fill: none; stroke: #b0b0b0; stroke-width: 0.8; stroke-linecap: square"/> </g> <g id="line2d_54"> <g> <use href="#m50817923cc" x="638.2800" y="358.9200" style="stroke: #000000; stroke-width: 0.8"/> </g> </g> <g id="text_27" transform="translate(-0.2160 0.5760) translate(0.0000 0) scale(1.0000 1) translate(-0.0000 0)">  <g transform="translate(622.359606 406.441269) rotate(-45) scale(0.1 -0.1)"> <use href="#IPAGothic-32" transform="translate(0 -6.553) scale(1 1.0850)"/> <use href="#IPAGothic-30" transform="translate(50 0) translate(0 -6.553) scale(1 1.0850)"/> <use href="#IPAGothic-32" transform="translate(100 0) translate(0 -6.553) scale(1 1.0850)"/> <use href="#IPAGothic-35" transform="translate(150 0) translate(0 -6.553) scale(1 1.0850)"/> <use href="#IPAGothic-2d" transform="translate(200 0) translate(0 -6.553) scale(1 1.0850)"/> <use href="#IPAGothic-31" transform="translate(250 0) translate(0 -6.553) scale(1 1.0850)"/> <use href="#IPAGothic-31" transform="translate(300 0) translate(0 -6.553) scale(1 1.0850)"/> <use href="#IPAGothic-2d" transform="translate(350 0) translate(0 -6.553) scale(1 1.0850)"/> <use href="#IPAGothic-31" transform="translate(400 0) translate(0 -6.553) scale(1 1.0850)"/> <use href="#IPAGothic-39" transform="translate(450 0) translate(0 -6.553) scale(1 1.0850)"/> </g> </g> </g> <g id="xtick_28"> <g id="line2d_55"> <path d="M 659.1600 358.9200 L 659.1600 27.0000" clip-path="url(#p0dbeb6fd4e)" style="fill: none; stroke: #b0b0b0; stroke-width: 0.8; stroke-linecap: square"/> </g> <g id="line2d_56"> <g> <use href="#m50817923cc" x="659.1600" y="358.9200" style="stroke: #000000; stroke-width: 0.8"/> </g> </g> <g id="text_28" transform="translate(-0.2160 0.5760) translate(0.0000 0) scale(1.0000 1) translate(-0.0000 0)">  <g transform="translate(643.385943 406.441269) rotate(-45) scale(0.1 -0.1)"> <use href="#IPAGothic-32" transform="translate(0 -6.553) scale(1 1.0850)"/> <use href="#IPAGothic-30" transform="translate(50 0) translate(0 -6.553) scale(1 1.0850)"/> <use href="#IPAGothic-32" transform="translate(100 0) translate(0 -6.553) scale(1 1.0850)"/> <use href="#IPAGothic-35" transform="translate(150 0) translate(0 -6.553) scale(1 1.0850)"/> <use href="#IPAGothic-2d" transform="translate(200 0) translate(0 -6.553) scale(1 1.0850)"/> <use href="#IPAGothic-31" transform="translate(250 0) translate(0 -6.553) scale(1 1.0850)"/> <use href="#IPAGothic-31" transform="translate(300 0) translate(0 -6.553) scale(1 1.0850)"/> <use href="#IPAGothic-2d" transform="translate(350 0) translate(0 -6.553) scale(1 1.0850)"/> <use href="#IPAGothic-32" transform="translate(400 0) translate(0 -6.553) scale(1 1.0850)"/> <use href="#IPAGothic-30" transform="translate(450 0) translate(0 -6.553) scale(1 1.0850)"/> </g> </g> </g> <g id="xtick_29"> <g id="line2d_57"> <path d="M 680.0400 358.9200 L 680.0400 27.0000" clip-path="url(#p0dbeb6fd4e)" style="fill: none; stroke: #b0b0b0; stroke-width: 0.8; stroke-linecap: square"/> </g> <g id="line2d_58"> <g> <use href="#m50817923cc" x="680.0400" y="358.9200" style="stroke: #000000; stroke-width: 0.8"/> </g> </g> <g id="text_29" transform="translate(-0.2160 0.5760) translate(0.0000 0) scale(1.0000 1) translate(-0.0000 0)">  <g transform="translate(664.412281 406.441269) rotate(-45) scale(0.1 -0.1)"> <use href="#IPAGothic-32" transform="translate(0 -6.553) scale(1 1.0850)"/> <use href="#IPAGothic-30" transform="translate(50 0) translate(0 -6.553) scale(1 1.0850)"/> <use href="#IPAGothic-32" transform="translate(100 0) translate(0 -6.553) scale(1 1.0850)"/> <use href="#IPAGothic-35" transform="translate(150 0) translate(0 -6.553) scale(1 1.0850)"/> <use href="#IPAGothic-2d" transform="translate(200 0) translate(0 -6.553) scale(1 1.0850)"/> <use href="#IPAGothic-31" transform="translate(250 0) translate(0 -6.553) scale(1 1.0850)"/> <use href="#IPAGothic-31" transform="translate(300 0) translate(0 -6.553) scale(1 1.0850)"/> <use href="#IPAGothic-2d" transform="translate(350 0) translate(0 -6.553) scale(1 1.0850)"/> <use href="#IPAGothic-32" transform="translate(400 0) translate(0 -6.553) scale(1 1.0850)"/> <use href="#IPAGothic-31" transform="translate(450 0) translate(0 -6.553) scale(1 1.0850)"/> </g> </g> </g> <g id="text_30" transform="translate(0.2160 1.0800) translate(385.4000 0) scale(0.9600 1) translate(-385.4000 0)">  <g transform="translate(375.3944 418.967865) scale(0.1 -0.1)"> <defs> <path id="IPAGothic-65e5" d="M 5231 4800 L 5231 -288 L 4744 -288 L 4744 128 L 1647 128 L 1647 -288 L 1159 -288 L 1159 4800 L 5231 4800 z M 1647 4372 L 1647 2731 L 4744 2731 L 4744 4372 L 1647 4372 z M 1647 2297 L 1647 556 L 4744 556 L 4744 2297 L 1647 2297 z " transform="scale(0.015625)" style="stroke:#000;stroke-width:70;stroke-linejoin:miter"/> <path id="IPAGothic-4ed8" d="M 1681 3772 L 1681 -447 L 1213 -447 L 1213 2825 Q 913 2316 578 1863 L 316 2253 Q 1241 3463 1653 5184 L 2128 5069 Q 1928 4378 1719 3859 L 1681 3772 z M 5084 3816 L 5994 3816 L 5994 3388 L 5109 3388 L 5109 213 Q 5109 -78 5006 -191 Q 4888 -319 4525 -319 Q 4031 -319 3516 -266 L 3431 238 Q 3978 141 4403 141 Q 4634 141 4634 384 L 4634 3388 L 2031 3388 L 2031 3816 L 4609 3816 L 4609 5153 L 5084 5153 L 5084 3816 z M 3431 1172 Q 3034 1994 2547 2566 L 2931 2822 Q 3428 2231 3853 1472 L 3431 1172 z " transform="scale(0.015625)" style="stroke:#000;stroke-width:70;stroke-linejoin:miter"/> </defs> <use href="#IPAGothic-65e5"/> <use href="#IPAGothic-4ed8" transform="translate(100 0)"/> </g> </g> </g> <g id="matplotlib.axis_2"> <g id="ytick_1"> <g id="line2d_59"> <path d="M 62.2800 345.9600 L 709.5600 345.9600" clip-path="url(#p0dbeb6fd4e)" style="fill: none; stroke: #b0b0b0; stroke-width: 0.8; stroke-linecap: square"/> </g> <g id="line2d_60"> <defs> <path id="m19d156c0aa" d="M 0 0 L -3.5 0 " style="stroke: #000000; stroke-width: 0.8"/> </defs> <g> <use href="#m19d156c0aa" x="62.2800" y="345.9600" style="stroke: #000000; stroke-width: 0.8"/> </g> </g> <g id="text_31" transform="translate(-0.7920 0.0000) translate(0.0000 0) scale(1.0000 1) translate(-0.0000 0)">  <g transform="translate(49.5888 349.500271) scale(0.1 -0.1)"> <use href="#IPAGothic-30" transform="translate(0 -6.553) scale(1 1.0850)"/> </g> </g> </g> <g id="ytick_2"> <g id="line2d_61"> <path d="M 62.2800 307.8000 L 709.5600 307.8000" clip-path="url(#p0dbeb6fd4e)" style="fill: none; stroke: #b0b0b0; stroke-width: 0.8; stroke-linecap: square"/> </g> <g id="line2d_62"> <g> <use href="#m19d156c0aa" x="62.2800" y="307.8000" style="stroke: #000000; stroke-width: 0.8"/> </g> </g> <g id="text_32" transform="translate(-0.7920 0.0000) translate(0.0000 0) scale(1.0000 1) translate(-0.0000 0)">  <g transform="translate(29.5888 311.152958) scale(0.1 -0.1)"> <use href="#IPAGothic-32" transform="translate(0 -6.553) scale(1 1.0850)"/> <use href="#IPAGothic-35" transform="translate(50 0) translate(0 -6.553) scale(1 1.0850)"/> <use href="#IPAGothic-30" transform="translate(100 0) translate(0 -6.553) scale(1 1.0850)"/> <use href="#IPAGothic-30" transform="translate(150 0) translate(0 -6.553) scale(1 1.0850)"/> <use href="#IPAGothic-30" transform="translate(200 0) translate(0 -6.553) scale(1 1.0850)"/> </g> </g> </g> <g id="ytick_3"> <g id="line2d_63"> <path d="M 62.2800 269.6400 L 709.5600 269.6400" clip-path="url(#p0dbeb6fd4e)" style="fill: none; stroke: #b0b0b0; stroke-width: 0.8; stroke-linecap: square"/> </g> <g id="line2d_64"> <g> <use href="#m19d156c0aa" x="62.2800" y="269.6400" style="stroke: #000000; stroke-width: 0.8"/> </g> </g> <g id="text_33" transform="translate(-0.7920 0.0000) translate(0.0000 0) scale(1.0000 1) translate(-0.0000 0)">  <g transform="translate(29.5888 272.805645) scale(0.1 -0.1)"> <use href="#IPAGothic-35" transform="translate(0 -6.553) scale(1 1.0850)"/> <use href="#IPAGothic-30" transform="translate(50 0) translate(0 -6.553) scale(1 1.0850)"/> <use href="#IPAGothic-30" transform="translate(100 0) translate(0 -6.553) scale(1 1.0850)"/> <use href="#IPAGothic-30" transform="translate(150 0) translate(0 -6.553) scale(1 1.0850)"/> <use href="#IPAGothic-30" transform="translate(200 0) translate(0 -6.553) scale(1 1.0850)"/> </g> </g> </g> <g id="ytick_4"> <g id="line2d_65"> <path d="M 62.2800 230.7600 L 709.5600 230.7600" clip-path="url(#p0dbeb6fd4e)" style="fill: none; stroke: #b0b0b0; stroke-width: 0.8; stroke-linecap: square"/> </g> <g id="line2d_66"> <g> <use href="#m19d156c0aa" x="62.2800" y="230.7600" style="stroke: #000000; stroke-width: 0.8"/> </g> </g> <g id="text_34" transform="translate(-0.7920 0.0000) translate(0.0000 0) scale(1.0000 1) translate(-0.0000 0)">  <g transform="translate(29.5888 234.458332) scale(0.1 -0.1)"> <use href="#IPAGothic-37" transform="translate(0 -6.553) scale(1 1.0850)"/> <use href="#IPAGothic-35" transform="translate(50 0) translate(0 -6.553) scale(1 1.0850)"/> <use href="#IPAGothic-30" transform="translate(100 0) translate(0 -6.553) scale(1 1.0850)"/> <use href="#IPAGothic-30" transform="translate(150 0) translate(0 -6.553) scale(1 1.0850)"/> <use href="#IPAGothic-30" transform="translate(200 0) translate(0 -6.553) scale(1 1.0850)"/> </g> </g> </g> <g id="ytick_5"> <g id="line2d_67"> <path d="M 62.2800 192.6000 L 709.5600 192.6000" clip-path="url(#p0dbeb6fd4e)" style="fill: none; stroke: #b0b0b0; stroke-width: 0.8; stroke-linecap: square"/> </g> <g id="line2d_68"> <g> <use href="#m19d156c0aa" x="62.2800" y="192.6000" style="stroke: #000000; stroke-width: 0.8"/> </g> </g> <g id="text_35" transform="translate(-0.7920 0.0000) translate(0.0000 0) scale(1.0000 1) translate(-0.0000 0)">  <g transform="translate(24.5888 196.111019) scale(0.1 -0.1)"> <use href="#IPAGothic-31" transform="translate(0 -6.553) scale(1 1.0850)"/> <use href="#IPAGothic-30" transform="translate(50 0) translate(0 -6.553) scale(1 1.0850)"/> <use href="#IPAGothic-30" transform="translate(100 0) translate(0 -6.553) scale(1 1.0850)"/> <use href="#IPAGothic-30" transform="translate(150 0) translate(0 -6.553) scale(1 1.0850)"/> <use href="#IPAGothic-30" transform="translate(200 0) translate(0 -6.553) scale(1 1.0850)"/> <use href="#IPAGothic-30" transform="translate(250 0) translate(0 -6.553) scale(1 1.0850)"/> </g> </g> </g> <g id="ytick_6"> <g id="line2d_69"> <path d="M 62.2800 154.4400 L 709.5600 154.4400" clip-path="url(#p0dbeb6fd4e)" style="fill: none; stroke: #b0b0b0; stroke-width: 0.8; stroke-linecap: square"/> </g> <g id="line2d_70"> <g> <use href="#m19d156c0aa" x="62.2800" y="154.4400" style="stroke: #000000; stroke-width: 0.8"/> </g> </g> <g id="text_36" transform="translate(-0.7920 0.0000) translate(0.0000 0) scale(1.0000 1) translate(-0.0000 0)">  <g transform="translate(24.5888 157.763707) scale(0.1 -0.1)"> <use href="#IPAGothic-31" transform="translate(0 -6.553) scale(1 1.0850)"/> <use href="#IPAGothic-32" transform="translate(50 0) translate(0 -6.553) scale(1 1.0850)"/> <use href="#IPAGothic-35" transform="translate(100 0) translate(0 -6.553) scale(1 1.0850)"/> <use href="#IPAGothic-30" transform="translate(150 0) translate(0 -6.553) scale(1 1.0850)"/> <use href="#IPAGothic-30" transform="translate(200 0) translate(0 -6.553) scale(1 1.0850)"/> <use href="#IPAGothic-30" transform="translate(250 0) translate(0 -6.553) scale(1 1.0850)"/> </g> </g> </g> <g id="ytick_7"> <g id="line2d_71"> <path d="M 62.2800 116.2800 L 709.5600 116.2800" clip-path="url(#p0dbeb6fd4e)" style="fill: none; stroke: #b0b0b0; stroke-width: 0.8; stroke-linecap: square"/> </g> <g id="line2d_72"> <g> <use href="#m19d156c0aa" x="62.2800" y="116.2800" style="stroke: #000000; stroke-width: 0.8"/> </g> </g> <g id="text_37" transform="translate(-0.7920 0.0000) translate(0.0000 0) scale(1.0000 1) translate(-0.0000 0)">  <g transform="translate(24.5888 119.416394) scale(0.1 -0.1)"> <use href="#IPAGothic-31" transform="translate(0 -6.553) scale(1 1.0850)"/> <use href="#IPAGothic-35" transform="translate(50 0) translate(0 -6.553) scale(1 1.0850)"/> <use href="#IPAGothic-30" transform="translate(100 0) translate(0 -6.553) scale(1 1.0850)"/> <use href="#IPAGothic-30" transform="translate(150 0) translate(0 -6.553) scale(1 1.0850)"/> <use href="#IPAGothic-30" transform="translate(200 0) translate(0 -6.553) scale(1 1.0850)"/> <use href="#IPAGothic-30" transform="translate(250 0) translate(0 -6.553) scale(1 1.0850)"/> </g> </g> </g> <g id="ytick_8"> <g id="line2d_73"> <path d="M 62.2800 77.4000 L 709.5600 77.4000" clip-path="url(#p0dbeb6fd4e)" style="fill: none; stroke: #b0b0b0; stroke-width: 0.8; stroke-linecap: square"/> </g> <g id="line2d_74"> <g> <use href="#m19d156c0aa" x="62.2800" y="77.4000" style="stroke: #000000; stroke-width: 0.8"/> </g> </g> <g id="text_38" transform="translate(-0.7920 0.0000) translate(0.0000 0) scale(1.0000 1) translate(-0.0000 0)">  <g transform="translate(24.5888 81.069081) scale(0.1 -0.1)"> <use href="#IPAGothic-31" transform="translate(0 -6.553) scale(1 1.0850)"/> <use href="#IPAGothic-37" transform="translate(50 0) translate(0 -6.553) scale(1 1.0850)"/> <use href="#IPAGothic-35" transform="translate(100 0) translate(0 -6.553) scale(1 1.0850)"/> <use href="#IPAGothic-30" transform="translate(150 0) translate(0 -6.553) scale(1 1.0850)"/> <use href="#IPAGothic-30" transform="translate(200 0) translate(0 -6.553) scale(1 1.0850)"/> <use href="#IPAGothic-30" transform="translate(250 0) translate(0 -6.553) scale(1 1.0850)"/> </g> </g> </g> <g id="ytick_9"> <g id="line2d_75"> <path d="M 62.2800 39.2400 L 709.5600 39.2400" clip-path="url(#p0dbeb6fd4e)" style="fill: none; stroke: #b0b0b0; stroke-width: 0.8; stroke-linecap: square"/> </g> <g id="line2d_76"> <g> <use href="#m19d156c0aa" x="62.2800" y="39.2400" style="stroke: #000000; stroke-width: 0.8"/> </g> </g> <g id="text_39" transform="translate(-0.7920 0.0000) translate(0.0000 0) scale(1.0000 1) translate(-0.0000 0)">  <g transform="translate(24.5888 42.721768) scale(0.1 -0.1)"> <use href="#IPAGothic-32" transform="translate(0 -6.553) scale(1 1.0850)"/> <use href="#IPAGothic-30" transform="translate(50 0) translate(0 -6.553) scale(1 1.0850)"/> <use href="#IPAGothic-30" transform="translate(100 0) translate(0 -6.553) scale(1 1.0850)"/> <use href="#IPAGothic-30" transform="translate(150 0) translate(0 -6.553) scale(1 1.0850)"/> <use href="#IPAGothic-30" transform="translate(200 0) translate(0 -6.553) scale(1 1.0850)"/> <use href="#IPAGothic-30" transform="translate(250 0) translate(0 -6.553) scale(1 1.0850)"/> </g> </g> </g> <g id="text_40" transform="translate(-1.2960 0.7200) translate(0.0000 0) scale(1.0000 1) translate(-0.0000 0)">  <g transform="translate(19.660675 210.226) rotate(-90) scale(0.1 -0.1)"> <defs> <path id="IPAGothic-5024" d="M 4172 3675 L 5453 3675 L 5453 684 L 3019 684 L 3019 3675 L 3747 3675 Q 3788 3884 3825 4153 L 2144 4153 L 2144 4544 L 3881 4544 Q 3922 4841 3966 5325 L 4434 5272 L 4391 4953 Q 4331 4578 4331 4544 L 5863 4544 L 5863 4153 L 4269 4153 Q 4200 3781 4172 3675 z M 5038 3316 L 3434 3316 L 3434 2803 L 5038 2803 L 5038 3316 z M 3434 2450 L 3434 1941 L 5038 1941 L 5038 2450 L 3434 2450 z M 3434 1588 L 3434 1044 L 5038 1044 L 5038 1588 L 3434 1588 z M 1509 3669 L 1509 -447 L 1069 -447 L 1069 2728 Q 856 2338 531 1875 L 288 2266 Q 1163 3534 1541 5325 L 1975 5225 Q 1791 4378 1509 3669 z M 2488 244 L 6034 244 L 6034 -153 L 2488 -153 L 2488 -447 L 2059 -447 L 2059 3213 L 2488 3213 L 2488 244 z " transform="scale(0.015625)" style="stroke:#000;stroke-width:70;stroke-linejoin:miter"/> <path id="IPAGothic-20" transform="scale(0.015625)"/> <path id="IPAGothic-28" d="M 2219 -434 Q 997 769 997 2441 Q 997 4097 2219 5300 L 2719 5300 Q 1478 4078 1478 2425 Q 1478 788 2719 -434 L 2219 -434 z " transform="scale(0.015625)" style="stroke:#000;stroke-width:70;stroke-linejoin:miter"/> <path id="IPAGothic-5186" d="M 5594 4806 L 5594 319 Q 5594 34 5491 -97 Q 5366 -269 4959 -269 Q 4469 -269 3897 -225 L 3809 275 Q 4384 206 4844 206 Q 5106 206 5106 434 L 5106 2119 L 1281 2119 L 1281 -359 L 794 -359 L 794 4806 L 5594 4806 z M 1281 4366 L 1281 2547 L 2944 2547 L 2944 4366 L 1281 4366 z M 5106 2547 L 5106 4366 L 3413 4366 L 3413 2547 L 5106 2547 z " transform="scale(0.015625)" style="stroke:#000;stroke-width:70;stroke-linejoin:miter"/> <path id="IPAGothic-29" d="M 481 -434 Q 1722 788 1722 2434 Q 1722 4069 481 5300 L 981 5300 Q 2203 4097 2203 2434 Q 2203 769 981 -434 L 481 -434 z " transform="scale(0.015625)" style="stroke:#000;stroke-width:70;stroke-linejoin:miter"/> </defs> <use href="#IPAGothic-5024"/> <use href="#IPAGothic-20" transform="translate(100 0) translate(0 -6.553) scale(1 1.0850)"/> <use href="#IPAGothic-28" transform="translate(150 0)"/> <use href="#IPAGothic-5186" transform="translate(200 0)"/> <use href="#IPAGothic-29" transform="translate(300 0)"/> </g> </g> </g> <g id="line2d_77"> <path d="M 91.025673 321.444 L 112.05201 320.724 L 133.078348 320.004 L 154.104686 319.284 L 175.131023 318.564 L 196.157361 317.844 L 217.183699 317.124 L 238.210036 316.404 L 259.236374 315.684 L 280.262712 203.364 L 301.289049 270.324 L 322.315387 334.98 L 343.341725 330.084 L 364.368062 323.604 L 385.3944 331.524 L 406.420738 332.964 L 427.447075 334.404 L 448.473413 335.124 L 469.499751 334.404 L 490.526088 333.684 L 511.552426 332.244 L 532.578764 331.38 L 553.605101 330.3 L 574.631439 329.22 L 595.657777 328.284 L 616.684114 327.708 L 637.710452 326.34 L 658.73679 325.044 L 679.763127 323.604 " clip-path="url(#p0dbeb6fd4e)" style="fill: none; stroke: #2ecc71; stroke-width: 1.5; stroke-linecap: square"/> <defs> <path id="m6a0af1a552" d="M 0 3 C 0.795609 3 1.55874 2.683901 2.12132 2.12132 C 2.683901 1.55874 3 0.795609 3 0 C 3 -0.795609 2.683901 -1.55874 2.12132 -2.12132 C 1.55874 -2.683901 0.795609 -3 0 -3 C -0.795609 -3 -1.55874 -2.683901 -2.12132 -2.12132 C -2.683901 -1.55874 -3 -0.795609 -3 0 C -3 0.795609 -2.683901 1.55874 -2.12132 2.12132 C -1.55874 2.683901 -0.795609 3 0 3 z " style="stroke: #2ecc71"/> </defs> <g clip-path="url(#p0dbeb6fd4e)"> <use href="#m6a0af1a552" x="91.0800" y="321.4800" style="fill: #2ecc71; stroke: #2ecc71"/> <use href="#m6a0af1a552" x="112.6800" y="320.7600" style="fill: #2ecc71; stroke: #2ecc71"/> <use href="#m6a0af1a552" x="133.5600" y="320.0400" style="fill: #2ecc71; stroke: #2ecc71"/> <use href="#m6a0af1a552" x="154.4400" y="319.3200" style="fill: #2ecc71; stroke: #2ecc71"/> <use href="#m6a0af1a552" x="175.3200" y="318.6000" style="fill: #2ecc71; stroke: #2ecc71"/> <use href="#m6a0af1a552" x="196.2000" y="317.8800" style="fill: #2ecc71; stroke: #2ecc71"/> <use href="#m6a0af1a552" x="217.8000" y="317.1600" style="fill: #2ecc71; stroke: #2ecc71"/> <use href="#m6a0af1a552" x="238.6800" y="316.4400" style="fill: #2ecc71; stroke: #2ecc71"/> <use href="#m6a0af1a552" x="259.5600" y="315.7200" style="fill: #2ecc71; stroke: #2ecc71"/> <use href="#m6a0af1a552" x="280.4400" y="203.4000" style="fill: #2ecc71; stroke: #2ecc71"/> <use href="#m6a0af1a552" x="301.3200" y="270.3600" style="fill: #2ecc71; stroke: #2ecc71"/> <use href="#m6a0af1a552" x="322.9200" y="335.1600" style="fill: #2ecc71; stroke: #2ecc71"/> <use href="#m6a0af1a552" x="343.8000" y="330.1200" style="fill: #2ecc71; stroke: #2ecc71"/> <use href="#m6a0af1a552" x="364.6800" y="323.6400" style="fill: #2ecc71; stroke: #2ecc71"/> <use href="#m6a0af1a552" x="385.5600" y="331.5600" style="fill: #2ecc71; stroke: #2ecc71"/> <use href="#m6a0af1a552" x="406.4400" y="333.0000" style="fill: #2ecc71; stroke: #2ecc71"/> <use href="#m6a0af1a552" x="428.0400" y="334.4400" style="fill: #2ecc71; stroke: #2ecc71"/> <use href="#m6a0af1a552" x="448.9200" y="335.1600" style="fill: #2ecc71; stroke: #2ecc71"/> <use href="#m6a0af1a552" x="469.8000" y="334.4400" style="fill: #2ecc71; stroke: #2ecc71"/> <use href="#m6a0af1a552" x="490.6800" y="333.7200" style="fill: #2ecc71; stroke: #2ecc71"/> <use href="#m6a0af1a552" x="511.5600" y="332.2800" style="fill: #2ecc71; stroke: #2ecc71"/> <use href="#m6a0af1a552" x="533.1600" y="331.5600" style="fill: #2ecc71; stroke: #2ecc71"/> <use href="#m6a0af1a552" x="554.0400" y="330.8400" style="fill: #2ecc71; stroke: #2ecc71"/> <use href="#m6a0af1a552" x="574.9200" y="329.4000" style="fill: #2ecc71; stroke: #2ecc71"/> <use href="#m6a0af1a552" x="595.8000" y="328.6800" style="fill: #2ecc71; stroke: #2ecc71"/> <use href="#m6a0af1a552" x="617.4000" y="327.9600" style="fill: #2ecc71; stroke: #2ecc71"/> <use href="#m6a0af1a552" x="638.2800" y="326.5200" style="fill: #2ecc71; stroke: #2ecc71"/> <use href="#m6a0af1a552" x="659.1600" y="325.0800" style="fill: #2ecc71; stroke: #2ecc71"/> <use href="#m6a0af1a552" x="680.0400" y="323.6400" style="fill: #2ecc71; stroke: #2ecc71"/> </g> </g> <g id="line2d_78"> <path d="M 91.025673 327.924 L 112.05201 328.644 L 133.078348 329.364 L 154.104686 330.084 L 175.131023 330.804 L 196.157361 331.524 L 217.183699 332.244 L 238.210036 332.964 L 259.236374 332.964 L 280.262712 203.364 L 301.289049 270.324 L 322.315387 335.268 L 343.341725 332.964 L 364.368062 329.364 L 385.3944 337.284 L 406.420738 332.964 L 427.447075 333.54 L 448.473413 333.684 L 469.499751 332.964 L 490.526088 332.244 L 511.552426 331.524 L 532.578764 330.804 L 553.605101 329.724 L 574.631439 328.644 L 595.657777 327.708 L 616.684114 327.204 L 637.710452 325.908 L 658.73679 324.612 L 679.763127 323.604 " clip-path="url(#p0dbeb6fd4e)" style="fill: none; stroke: #ffa500; stroke-width: 1.5; stroke-linecap: square"/> <defs> <path id="md67da49e89" d="M 0 3 C 0.795609 3 1.55874 2.683901 2.12132 2.12132 C 2.683901 1.55874 3 0.795609 3 0 C 3 -0.795609 2.683901 -1.55874 2.12132 -2.12132 C 1.55874 -2.683901 0.795609 -3 0 -3 C -0.795609 -3 -1.55874 -2.683901 -2.12132 -2.12132 C -2.683901 -1.55874 -3 -0.795609 -3 0 C -3 0.795609 -2.683901 1.55874 -2.12132 2.12132 C -1.55874 2.683901 -0.795609 3 0 3 z " style="stroke: #ffa500"/> </defs> <g clip-path="url(#p0dbeb6fd4e)"> <use href="#md67da49e89" x="91.0800" y="327.9600" style="fill: #ffa500; stroke: #ffa500"/> <use href="#md67da49e89" x="112.6800" y="328.6800" style="fill: #ffa500; stroke: #ffa500"/> <use href="#md67da49e89" x="133.5600" y="329.4000" style="fill: #ffa500; stroke: #ffa500"/> <use href="#md67da49e89" x="154.4400" y="330.1200" style="fill: #ffa500; stroke: #ffa500"/> <use href="#md67da49e89" x="175.3200" y="330.8400" style="fill: #ffa500; stroke: #ffa500"/> <use href="#md67da49e89" x="196.2000" y="331.5600" style="fill: #ffa500; stroke: #ffa500"/> <use href="#md67da49e89" x="217.8000" y="332.2800" style="fill: #ffa500; stroke: #ffa500"/> <use href="#md67da49e89" x="238.6800" y="333.0000" style="fill: #ffa500; stroke: #ffa500"/> <use href="#md67da49e89" x="259.5600" y="333.0000" style="fill: #ffa500; stroke: #ffa500"/> <use href="#md67da49e89" x="280.4400" y="203.4000" style="fill: #ffa500; stroke: #ffa500"/> <use href="#md67da49e89" x="301.3200" y="270.3600" style="fill: #ffa500; stroke: #ffa500"/> <use href="#md67da49e89" x="322.9200" y="335.8800" style="fill: #ffa500; stroke: #ffa500"/> <use href="#md67da49e89" x="343.8000" y="333.0000" style="fill: #ffa500; stroke: #ffa500"/> <use href="#md67da49e89" x="364.6800" y="329.4000" style="fill: #ffa500; stroke: #ffa500"/> <use href="#md67da49e89" x="385.5600" y="337.3200" style="fill: #ffa500; stroke: #ffa500"/> <use href="#md67da49e89" x="406.4400" y="333.0000" style="fill: #ffa500; stroke: #ffa500"/> <use href="#md67da49e89" x="428.0400" y="333.7200" style="fill: #ffa500; stroke: #ffa500"/> <use href="#md67da49e89" x="448.9200" y="333.7200" style="fill: #ffa500; stroke: #ffa500"/> <use href="#md67da49e89" x="469.8000" y="333.0000" style="fill: #ffa500; stroke: #ffa500"/> <use href="#md67da49e89" x="490.6800" y="332.2800" style="fill: #ffa500; stroke: #ffa500"/> <use href="#md67da49e89" x="511.5600" y="331.5600" style="fill: #ffa500; stroke: #ffa500"/> <use href="#md67da49e89" x="533.1600" y="330.8400" style="fill: #ffa500; stroke: #ffa500"/> <use href="#md67da49e89" x="554.0400" y="330.1200" style="fill: #ffa500; stroke: #ffa500"/> <use href="#md67da49e89" x="574.9200" y="328.6800" style="fill: #ffa500; stroke: #ffa500"/> <use href="#md67da49e89" x="595.8000" y="327.9600" style="fill: #ffa500; stroke: #ffa500"/> <use href="#md67da49e89" x="617.4000" y="327.2400" style="fill: #ffa500; stroke: #ffa500"/> <use href="#md67da49e89" x="638.2800" y="326.5200" style="fill: #ffa500; stroke: #ffa500"/> <use href="#md67da49e89" x="659.1600" y="325.0800" style="fill: #ffa500; stroke: #ffa500"/> <use href="#md67da49e89" x="680.0400" y="323.6400" style="fill: #ffa500; stroke: #ffa500"/> </g> </g> <g id="line2d_79"> <path d="M 91.025673 227.844 L 112.05201 204.804 L 133.078348 181.764 L 154.104686 158.724 L 175.131023 134.964 L 196.157361 111.924 L 217.183699 88.884 L 238.210036 65.124 L 259.236374 42.084 L 280.262712 119.124 L 301.289049 227.124 L 322.315387 335.124 L 343.341725 281.844 L 364.368062 229.284 L 385.3944 285.444 L 406.420738 332.964 L 427.447075 332.244 L 448.473413 330.804 L 469.499751 330.084 L 490.526088 329.364 L 511.552426 328.644 L 532.578764 327.204 L 553.605101 326.484 L 574.631439 325.764 L 595.657777 325.044 L 616.684114 324.324 L 637.710452 322.884 L 658.73679 322.884 L 679.763127 322.884 " clip-path="url(#p0dbeb6fd4e)" style="fill: none; stroke: #ff4b4b; stroke-width: 1.5; stroke-linecap: square"/> <defs> <path id="m23e8ac8519" d="M 0 3 C 0.795609 3 1.55874 2.683901 2.12132 2.12132 C 2.683901 1.55874 3 0.795609 3 0 C 3 -0.795609 2.683901 -1.55874 2.12132 -2.12132 C 1.55874 -2.683901 0.795609 -3 0 -3 C -0.795609 -3 -1.55874 -2.683901 -2.12132 -2.12132 C -2.683901 -1.55874 -3 -0.795609 -3 0 C -3 0.795609 -2.683901 1.55874 -2.12132 2.12132 C -1.55874 2.683901 -0.795609 3 0 3 z " style="stroke: #ff4b4b"/> </defs> <g clip-path="url(#p0dbeb6fd4e)"> <use href="#m23e8ac8519" x="91.0800" y="227.8800" style="fill: #ff4b4b; stroke: #ff4b4b"/> <use href="#m23e8ac8519" x="112.6800" y="204.8400" style="fill: #ff4b4b; stroke: #ff4b4b"/> <use href="#m23e8ac8519" x="133.5600" y="181.8000" style="fill: #ff4b4b; stroke: #ff4b4b"/> <use href="#m23e8ac8519" x="154.4400" y="158.7600" style="fill: #ff4b4b; stroke: #ff4b4b"/> <use href="#m23e8ac8519" x="175.3200" y="135.0000" style="fill: #ff4b4b; stroke: #ff4b4b"/> <use href="#m23e8ac8519" x="196.2000" y="111.9600" style="fill: #ff4b4b; stroke: #ff4b4b"/> <use href="#m23e8ac8519" x="217.8000" y="88.9200" style="fill: #ff4b4b; stroke: #ff4b4b"/> <use href="#m23e8ac8519" x="238.6800" y="65.1600" style="fill: #ff4b4b; stroke: #ff4b4b"/> <use href="#m23e8ac8519" x="259.5600" y="42.1200" style="fill: #ff4b4b; stroke: #ff4b4b"/> <use href="#m23e8ac8519" x="280.4400" y="119.1600" style="fill: #ff4b4b; stroke: #ff4b4b"/> <use href="#m23e8ac8519" x="301.3200" y="227.1600" style="fill: #ff4b4b; stroke: #ff4b4b"/> <use href="#m23e8ac8519" x="322.9200" y="335.1600" style="fill: #ff4b4b; stroke: #ff4b4b"/> <use href="#m23e8ac8519" x="343.8000" y="281.8800" style="fill: #ff4b4b; stroke: #ff4b4b"/> <use href="#m23e8ac8519" x="364.6800" y="229.3200" style="fill: #ff4b4b; stroke: #ff4b4b"/> <use href="#m23e8ac8519" x="385.5600" y="285.4800" style="fill: #ff4b4b; stroke: #ff4b4b"/> <use href="#m23e8ac8519" x="406.4400" y="333.0000" style="fill: #ff4b4b; stroke: #ff4b4b"/> <use href="#m23e8ac8519" x="428.0400" y="332.2800" style="fill: #ff4b4b; stroke: #ff4b4b"/> <use href="#m23e8ac8519" x="448.9200" y="330.8400" style="fill: #ff4b4b; stroke: #ff4b4b"/> <use href="#m23e8ac8519" x="469.8000" y="330.1200" style="fill: #ff4b4b; stroke: #ff4b4b"/> <use href="#m23e8ac8519" x="490.6800" y="329.4000" style="fill: #ff4b4b; stroke: #ff4b4b"/> <use href="#m23e8ac8519" x="511.5600" y="328.6800" style="fill: #ff4b4b; stroke: #ff4b4b"/> <use href="#m23e8ac8519" x="533.1600" y="327.2400" style="fill: #ff4b4b; stroke: #ff4b4b"/> <use href="#m23e8ac8519" x="554.0400" y="326.5200" style="fill: #ff4b4b; stroke: #ff4b4b"/> <use href="#m23e8ac8519" x="574.9200" y="325.8000" style="fill: #ff4b4b; stroke: #ff4b4b"/> <use href="#m23e8ac8519" x="595.8000" y="325.0800" style="fill: #ff4b4b; stroke: #ff4b4b"/> <use href="#m23e8ac8519" x="617.4000" y="324.3600" style="fill: #ff4b4b; stroke: #ff4b4b"/> <use href="#m23e8ac8519" x="638.2800" y="322.9200" style="fill: #ff4b4b; stroke: #ff4b4b"/> <use href="#m23e8ac8519" x="659.1600" y="322.9200" style="fill: #ff4b4b; stroke: #ff4b4b"/> <use href="#m23e8ac8519" x="680.0400" y="322.9200" style="fill: #ff4b4b; stroke: #ff4b4b"/> </g> </g> <g id="line2d_80"> <path d="M 91.025673 340.884 L 112.05201 340.884 L 133.078348 341.604 L 154.104686 341.604 L 175.131023 342.324 L 196.157361 342.324 L 217.183699 343.044 L 238.210036 343.764 L 259.236374 343.764 L 280.262712 288.324 L 301.289049 313.524 L 322.315387 338.724 L 343.341725 339.444 L 364.368062 340.884 L 385.3944 343.764 L 406.420738 332.964 L 427.447075 338.004 L 448.473413 343.044 L 469.499751 341.604 L 490.526088 340.164 L 511.552426 338.724 L 532.578764 337.284 L 553.605101 335.844 L 574.631439 334.404 L 595.657777 332.964 L 616.684114 331.524 L 637.710452 330.084 L 658.73679 326.484 L 679.763127 323.604 " clip-path="url(#p0dbeb6fd4e)" style="fill: none; stroke: #4b9bff; stroke-width: 1.5; stroke-linecap: square"/> <defs> <path id="m3b134a0e1f" d="M 0 3 C 0.795609 3 1.55874 2.683901 2.12132 2.12132 C 2.683901 1.55874 3 0.795609 3 0 C 3 -0.795609 2.683901 -1.55874 2.12132 -2.12132 C 1.55874 -2.683901 0.795609 -3 0 -3 C -0.795609 -3 -1.55874 -2.683901 -2.12132 -2.12132 C -2.683901 -1.55874 -3 -0.795609 -3 0 C -3 0.795609 -2.683901 1.55874 -2.12132 2.12132 C -1.55874 2.683901 -0.795609 3 0 3 z " style="stroke: #4b9bff"/> </defs> <g clip-path="url(#p0dbeb6fd4e)"> <use href="#m3b134a0e1f" x="91.0800" y="340.9200" style="fill: #4b9bff; stroke: #4b9bff"/> <use href="#m3b134a0e1f" x="112.6800" y="340.9200" style="fill: #4b9bff; stroke: #4b9bff"/> <use href="#m3b134a0e1f" x="133.5600" y="341.6400" style="fill: #4b9bff; stroke: #4b9bff"/> <use href="#m3b134a0e1f" x="154.4400" y="341.6400" style="fill: #4b9bff; stroke: #4b9bff"/> <use href="#m3b134a0e1f" x="175.3200" y="342.3600" style="fill: #4b9bff; stroke: #4b9bff"/> <use href="#m3b134a0e1f" x="196.2000" y="342.3600" style="fill: #4b9bff; stroke: #4b9bff"/> <use href="#m3b134a0e1f" x="217.8000" y="343.0800" style="fill: #4b9bff; stroke: #4b9bff"/> <use href="#m3b134a0e1f" x="238.6800" y="343.8000" style="fill: #4b9bff; stroke: #4b9bff"/> <use href="#m3b134a0e1f" x="259.5600" y="343.8000" style="fill: #4b9bff; stroke: #4b9bff"/> <use href="#m3b134a0e1f" x="280.4400" y="288.3600" style="fill: #4b9bff; stroke: #4b9bff"/> <use href="#m3b134a0e1f" x="301.3200" y="313.5600" style="fill: #4b9bff; stroke: #4b9bff"/> <use href="#m3b134a0e1f" x="322.9200" y="338.7600" style="fill: #4b9bff; stroke: #4b9bff"/> <use href="#m3b134a0e1f" x="343.8000" y="339.4800" style="fill: #4b9bff; stroke: #4b9bff"/> <use href="#m3b134a0e1f" x="364.6800" y="340.9200" style="fill: #4b9bff; stroke: #4b9bff"/> <use href="#m3b134a0e1f" x="385.5600" y="343.8000" style="fill: #4b9bff; stroke: #4b9bff"/> <use href="#m3b134a0e1f" x="406.4400" y="333.0000" style="fill: #4b9bff; stroke: #4b9bff"/> <use href="#m3b134a0e1f" x="428.0400" y="338.0400" style="fill: #4b9bff; stroke: #4b9bff"/> <use href="#m3b134a0e1f" x="448.9200" y="343.0800" style="fill: #4b9bff; stroke: #4b9bff"/> <use href="#m3b134a0e1f" x="469.8000" y="341.6400" style="fill: #4b9bff; stroke: #4b9bff"/> <use href="#m3b134a0e1f" x="490.6800" y="340.2000" style="fill: #4b9bff; stroke: #4b9bff"/> <use href="#m3b134a0e1f" x="511.5600" y="338.7600" style="fill: #4b9bff; stroke: #4b9bff"/> <use href="#m3b134a0e1f" x="533.1600" y="337.3200" style="fill: #4b9bff; stroke: #4b9bff"/> <use href="#m3b134a0e1f" x="554.0400" y="335.8800" style="fill: #4b9bff; stroke: #4b9bff"/> <use href="#m3b134a0e1f" x="574.9200" y="334.4400" style="fill: #4b9bff; stroke: #4b9bff"/> <use href="#m3b134a0e1f" x="595.8000" y="333.0000" style="fill: #4b9bff; stroke: #4b9bff"/> <use href="#m3b134a0e1f" x="617.4000" y="331.5600" style="fill: #4b9bff; stroke: #4b9bff"/> <use href="#m3b134a0e1f" x="638.2800" y="330.1200" style="fill: #4b9bff; stroke: #4b9bff"/> <use href="#m3b134a0e1f" x="659.1600" y="326.5200" style="fill: #4b9bff; stroke: #4b9bff"/> <use href="#m3b134a0e1f" x="680.0400" y="323.6400" style="fill: #4b9bff; stroke: #4b9bff"/> </g> </g> <g id="patch_3"> <path d="M 62.2800 358.9200 L 62.2800 27.0000" style="fill: none; stroke: #000000; stroke-width: 0.8; stroke-linejoin: miter; stroke-linecap: square"/> </g> <g id="patch_4"> <path d="M 709.5600 358.9200 L 709.5600 27.0000" style="fill: none; stroke: #000000; stroke-width: 0.8; stroke-linejoin: miter; stroke-linecap: square"/> </g> <g id="patch_5"> <path d="M 62.2800 358.9200 L 709.5600 358.9200" style="fill: none; stroke: #000000; stroke-width: 0.8; stroke-linejoin: miter; stroke-linecap: square"/> </g> <g id="patch_6"> <path d="M 62.2800 27.0000 L 709.5600 27.0000" style="fill: none; stroke: #000000; stroke-width: 0.8; stroke-linejoin: miter; stroke-linecap: square"/> </g> <g id="text_41" transform="translate(0.0000 0.7200) translate(0.0000 0) scale(1.0000 1) translate(-0.0000 0)">  <g transform="translate(304.3944 20.676) scale(0.12 -0.12)"> <defs> <path id="IPAGothic-58" d="M 384 4806 L 963 4806 L 1600 3231 L 2241 4806 L 2816 4806 L 1909 2706 L 2978 325 L 2375 325 L 1600 2197 L 828 325 L 225 325 L 1294 2706 L 384 4806 z " transform="scale(0.015625)" style="stroke:#000;stroke-width:70;stroke-linejoin:miter"/> <path id="IPAGothic-59" d="M 194 4806 L 769 4806 L 1603 2669 L 2434 4806 L 3009 4806 L 1866 2081 L 1866 325 L 1341 325 L 1341 2081 L 194 4806 z " transform="scale(0.015625)" style="stroke:#000;stroke-width:70;stroke-linejoin:miter"/> <path id="IPAGothic-2f" d="M 2750 5259 L 3006 5147 L 441 -403 L 184 -288 L 2750 5259 z " transform="scale(0.015625)" style="stroke:#000;stroke-width:70;stroke-linejoin:miter"/> <path id="IPAGothic-53" d="M 831 1613 Q 869 666 1650 666 Q 1931 666 2119 806 Q 2381 1009 2381 1375 Q 2381 1769 2053 2069 Q 1828 2269 1281 2584 Q 416 3094 416 3800 Q 416 4247 697 4556 Q 1038 4934 1606 4934 Q 2666 4934 2809 3659 L 2284 3659 Q 2263 3953 2163 4128 Q 1963 4481 1606 4481 Q 1238 4481 1056 4231 Q 928 4053 928 3841 Q 928 3334 1753 2853 Q 2263 2556 2534 2284 Q 2900 1928 2900 1381 Q 2900 866 2572 550 Q 2222 197 1666 197 Q 969 197 581 709 Q 313 1066 294 1613 L 831 1613 z " transform="scale(0.015625)" style="stroke:#000;stroke-width:70;stroke-linejoin:miter"/> <path id="IPAGothic-52" d="M 447 4806 L 1556 4806 Q 2097 4806 2438 4563 Q 2872 4244 2872 3641 Q 2872 2759 2034 2500 L 2994 325 L 2406 325 L 1534 2416 L 947 2416 L 947 325 L 447 325 L 447 4806 z M 947 4331 L 947 2875 L 1484 2875 Q 1766 2875 1975 2991 Q 2359 3191 2359 3628 Q 2359 4331 1478 4331 L 947 4331 z " transform="scale(0.015625)" style="stroke:#000;stroke-width:70;stroke-linejoin:miter"/> <path id="IPAGothic-4fa1" d="M 3144 3397 L 3144 4416 L 1831 4416 L 1831 4825 L 6081 4825 L 6081 4416 L 4713 4416 L 4713 3397 L 5850 3397 L 5850 -384 L 5416 -384 L 5416 0 L 2463 0 L 2463 -384 L 2034 -384 L 2034 3397 L 3144 3397 z M 3572 3397 L 4281 3397 L 4281 4416 L 3572 4416 L 3572 3397 z M 3169 3013 L 2463 3013 L 2463 391 L 3169 391 L 3169 3013 z M 3572 3013 L 3572 391 L 4281 391 L 4281 3013 L 3572 3013 z M 4684 3013 L 4684 391 L 5416 391 L 5416 3013 L 4684 3013 z M 1394 3816 L 1394 -447 L 966 -447 L 966 2797 Q 756 2369 478 1972 L 244 2369 Q 950 3472 1375 5313 L 1809 5203 Q 1588 4344 1394 3816 z " transform="scale(0.015625)" style="stroke:#000;stroke-width:70;stroke-linejoin:miter"/> <path id="IPAGothic-683c" d="M 1281 2650 Q 978 1569 500 806 L 231 1269 Q 866 2141 1231 3584 L 366 3584 L 366 3988 L 1281 3988 L 1281 5306 L 1716 5306 L 1716 3988 L 2534 3988 L 2534 3584 L 1716 3584 L 1716 3072 Q 2163 2719 2572 2331 L 2328 1953 Q 2059 2291 1716 2625 L 1716 -447 L 1281 -447 L 1281 2650 z M 2938 1747 Q 2716 1613 2516 1509 L 2247 1841 Q 3244 2341 3963 3078 Q 3669 3369 3353 3841 Q 3028 3344 2638 2969 L 2356 3281 Q 3213 4131 3538 5300 L 3956 5184 Q 3834 4813 3834 4806 L 5250 4806 L 5478 4606 Q 5016 3650 4531 3091 Q 5238 2509 6131 2144 L 5838 1731 Q 5766 1766 5516 1900 L 5459 1931 L 5459 -447 L 5019 -447 L 5019 -128 L 3378 -128 L 3378 -447 L 2938 -447 L 2938 1747 z M 3225 1931 L 5459 1931 Q 5416 1959 5325 2009 Q 4738 2344 4263 2781 Q 3906 2400 3225 1931 z M 5019 1547 L 3378 1547 L 3378 263 L 5019 263 L 5019 1547 z M 3672 4422 Q 3625 4331 3556 4184 Q 3825 3781 4225 3372 Q 4588 3809 4903 4422 L 3672 4422 z " transform="scale(0.015625)" style="stroke:#000;stroke-width:70;stroke-linejoin:miter"/> <path id="IPAGothic-63a8" d="M 3244 4063 L 4244 4063 Q 4484 4581 4653 5228 L 5125 5100 Q 4913 4484 4691 4063 L 5906 4063 L 5906 3666 L 4647 3666 L 4647 2822 L 5747 2822 L 5747 2438 L 4647 2438 L 4647 1594 L 5747 1594 L 5747 1216 L 4647 1216 L 4647 319 L 6047 319 L 6047 -91 L 3244 -91 L 3244 -481 L 2816 -481 L 2816 3188 L 2791 3128 Q 2581 2744 2366 2463 L 2084 2797 Q 2813 3728 3166 5284 L 3616 5144 Q 3428 4494 3244 4063 z M 3244 319 L 4231 319 L 4231 1216 L 3244 1216 L 3244 319 z M 3244 1594 L 4231 1594 L 4231 2438 L 3244 2438 L 3244 1594 z M 3244 2822 L 4231 2822 L 4231 3666 L 3244 3666 L 3244 2822 z M 1184 4084 L 1184 5313 L 1613 5313 L 1613 4084 L 2328 4084 L 2328 3669 L 1613 3669 L 1613 2241 Q 1997 2341 2334 2453 L 2359 2069 Q 1809 1884 1631 1831 L 1613 1825 L 1613 44 Q 1613 -194 1522 -294 Q 1413 -403 1081 -403 Q 738 -403 519 -366 L 441 97 Q 741 38 978 38 Q 1184 38 1184 219 L 1184 1703 L 1144 1697 Q 738 1584 409 1509 L 275 1941 Q 722 2022 1138 2119 Q 1147 2122 1166 2125 Q 1175 2128 1184 2131 L 1184 3669 L 372 3669 L 372 4084 L 1184 4084 z " transform="scale(0.015625)" style="stroke:#000;stroke-width:70;stroke-linejoin:miter"/> <path id="IPAGothic-79fb" d="M 4691 2419 L 5844 2419 L 6066 2188 Q 5503 1156 4759 513 Q 4078 -75 2975 -469 L 2681 -97 Q 3684 194 4384 728 Q 4094 1056 3731 1356 Q 3381 1053 2919 819 L 2669 1150 Q 3853 1772 4500 2878 L 4909 2772 Q 4772 2528 4691 2419 z M 4409 2034 Q 4216 1803 4000 1588 Q 4375 1341 4703 1009 Q 5219 1488 5497 2034 L 4409 2034 z M 1350 2328 Q 1009 1334 513 659 L 263 1081 Q 966 2022 1266 3128 L 366 3128 L 366 3531 L 1350 3531 L 1350 4400 Q 919 4322 575 4266 L 366 4644 Q 1506 4806 2381 5144 L 2700 4747 Q 2241 4600 1784 4491 L 1784 3531 L 2619 3531 L 2619 3128 L 1784 3128 L 1784 2688 Q 2303 2266 2722 1803 L 2444 1356 Q 2103 1841 1784 2181 L 1784 -447 L 1350 -447 L 1350 2328 z M 4275 4800 L 5491 4800 L 5709 4609 Q 4759 2809 2872 2047 L 2603 2388 Q 3534 2722 4134 3244 Q 3869 3519 3450 3794 Q 3184 3569 2859 3359 L 2591 3666 Q 3578 4259 4056 5288 L 4478 5191 Q 4403 5034 4275 4800 z M 4019 4416 Q 3856 4194 3700 4038 Q 4128 3759 4372 3553 L 4416 3513 Q 4884 3991 5119 4416 L 4019 4416 z " transform="scale(0.015625)" style="stroke:#000;stroke-width:70;stroke-linejoin:miter"/> <path id="IPAGothic-904e" d="M 1703 741 Q 1975 363 2503 209 Q 2906 94 3931 94 Q 4897 94 6131 178 Q 6025 -59 5978 -300 Q 4931 -341 4384 -341 Q 2819 -341 2234 -128 Q 1763 44 1525 397 Q 1113 -81 653 -447 L 372 19 Q 900 341 1269 672 L 1269 2303 L 378 2303 L 378 2731 L 1703 2731 L 1703 741 z M 5338 2778 L 2594 2778 L 2594 428 L 2178 428 L 2178 3138 L 2594 3138 L 2594 5025 L 5338 5025 L 5338 3138 L 5753 3138 L 5753 875 Q 5753 597 5638 513 Q 5547 441 5313 441 Q 5019 441 4713 478 L 4659 903 Q 4956 850 5184 850 Q 5338 850 5338 1016 L 5338 2778 z M 4934 3138 L 4934 3784 L 4041 3784 L 4041 3138 L 4934 3138 z M 3663 3138 L 3663 4116 L 4934 4116 L 4934 4666 L 3003 4666 L 3003 3138 L 3663 3138 z M 4750 2350 L 4750 1113 L 3469 1113 L 3469 781 L 3091 781 L 3091 2350 L 4750 2350 z M 3469 2019 L 3469 1453 L 4372 1453 L 4372 2019 L 3469 2019 z M 1525 3775 Q 1053 4353 563 4738 L 878 5056 Q 1497 4566 1869 4122 L 1525 3775 z " transform="scale(0.015625)" style="stroke:#000;stroke-width:70;stroke-linejoin:miter"/> <path id="IPAGothic-53bb" d="M 3009 2169 Q 3003 2150 2988 2131 Q 2634 1163 2144 344 L 2375 363 Q 3003 400 3963 497 L 4697 575 Q 4322 1025 3909 1419 L 4281 1650 Q 5041 956 5834 -34 L 5431 -347 Q 5347 -234 5200 -47 Q 5038 163 4991 222 Q 3384 -22 959 -213 L 800 269 Q 888 272 1153 288 Q 1428 303 1606 313 L 1656 403 Q 2147 1250 2491 2169 L 447 2169 L 447 2584 L 2931 2584 L 2931 3744 L 959 3744 L 959 4159 L 2931 4159 L 2931 5216 L 3419 5216 L 3419 4159 L 5438 4159 L 5438 3744 L 3419 3744 L 3419 2584 L 5950 2584 L 5950 2169 L 3009 2169 z " transform="scale(0.015625)" style="stroke:#000;stroke-width:70;stroke-linejoin:miter"/> <path id="IPAGothic-9593" d="M 4450 2566 L 4450 353 L 2375 353 L 2375 -25 L 1953 -25 L 1953 2566 L 4450 2566 z M 4028 2200 L 2375 2200 L 2375 1653 L 4028 1653 L 4028 2200 z M 4028 1300 L 2375 1300 L 2375 719 L 4028 719 L 4028 1300 z M 2913 5019 L 2913 3059 L 1056 3059 L 1056 -447 L 609 -447 L 609 5019 L 2913 5019 z M 1056 4659 L 1056 4206 L 2497 4206 L 2497 4659 L 1056 4659 z M 1056 3881 L 1056 3413 L 2497 3413 L 2497 3881 L 1056 3881 z M 5788 5019 L 5788 91 Q 5788 -225 5641 -331 Q 5525 -409 5231 -409 Q 4800 -409 4481 -366 L 4419 97 Q 4853 38 5128 38 Q 5341 38 5341 244 L 5341 3059 L 3438 3059 L 3438 5019 L 5788 5019 z M 3853 4659 L 3853 4206 L 5341 4206 L 5341 4659 L 3853 4659 z M 3853 3881 L 3853 3413 L 5341 3413 L 5341 3881 L 3853 3881 z " transform="scale(0.015625)" style="stroke:#000;stroke-width:70;stroke-linejoin:miter"/> </defs> <use href="#IPAGothic-58" transform="translate(0 -6.553) scale(1 1.0850)"/> <use href="#IPAGothic-59" transform="translate(50 0) translate(0 -6.553) scale(1 1.0850)"/> <use href="#IPAGothic-33" transform="translate(100 0) translate(0 -6.553) scale(1 1.0850)"/> <use href="#IPAGothic-2f" transform="translate(150 0) translate(0 -6.553) scale(1 1.0850)"/> <use href="#IPAGothic-53" transform="translate(200 0) translate(0 -6.553) scale(1 1.0850)"/> <use href="#IPAGothic-52" transform="translate(250 0) translate(0 -6.553) scale(1 1.0850)"/> <use href="#IPAGothic-20" transform="translate(300 0) translate(0 -6.553) scale(1 1.0850)"/> <use href="#IPAGothic-4fa1" transform="translate(350 0)"/> <use href="#IPAGothic-683c" transform="translate(450 0)"/> <use href="#IPAGothic-63a8" transform="translate(550 0)"/> <use href="#IPAGothic-79fb" transform="translate(650 0)"/> <use href="#IPAGothic-28" transform="translate(750 0)"/> <use href="#IPAGothic-904e" transform="translate(800 0)"/> <use href="#IPAGothic-53bb" transform="translate(900 0)"/> <use href="#IPAGothic-33" transform="translate(1000 0) translate(0 -6.553) scale(1 1.0850)"/> <use href="#IPAGothic-30" transform="translate(1050 0) translate(0 -6.553) scale(1 1.0850)"/> <use href="#IPAGothic-65e5" transform="translate(1100 0)"/> <use href="#IPAGothic-9593" transform="translate(1200 0)"/> <use href="#IPAGothic-29" transform="translate(1300 0)"/> </g> </g> <g id="legend_1"> <g id="patch_7"> <path d="M 640.2000 92.5781 L 702.2000 92.5781 Q 704.2000 92.5781 704.2000 90.5781 L 704.2000 34.1512 Q 704.2000 32.1512 702.2000 32.1512 L 640.2000 32.1512 Q 638.2000 32.1512 638.2000 34.1512 L 638.2000 90.5781 Q 638.2000 92.5781 640.2000 92.5781 z " style="fill: #ffffff; opacity: 0.8; stroke: #cccccc; stroke-linejoin: miter"/> </g> <g id="line2d_81" transform="translate(0 0.0000)"> <path d="M 642.2 40.266625 L 652.2 40.266625 L 662.2 40.266625 " style="fill: none; stroke: #2ecc71; stroke-width: 1.5; stroke-linecap: square"/> <g> <use href="#m6a0af1a552" x="652.6800" y="40.6800" style="fill: #2ecc71; stroke: #2ecc71"/> </g> </g> <g id="text_42" transform="translate(0.3600 0.4320) translate(670.2000 0) scale(0.9500 1) translate(-670.2000 0)">  <g transform="translate(670.2 43.766625) scale(0.1 -0.1)"> <defs> <path id="IPAGothic-5e73" d="M 3419 4428 L 3419 1941 L 6078 1941 L 6078 1513 L 3419 1513 L 3419 -447 L 2931 -447 L 2931 1513 L 319 1513 L 319 1941 L 2931 1941 L 2931 4428 L 638 4428 L 638 4856 L 5759 4856 L 5759 4428 L 3419 4428 z M 1728 2278 Q 1488 3094 1081 3859 L 1541 4038 Q 1872 3422 2219 2472 L 1728 2278 z M 4134 2425 Q 4506 3138 4813 4128 L 5303 3944 Q 4984 3006 4569 2228 L 4134 2425 z " transform="scale(0.015625)" style="stroke:#000;stroke-width:70;stroke-linejoin:miter"/> <path id="IPAGothic-5747" d="M 1206 3794 L 1206 5147 L 1659 5147 L 1659 3794 L 2369 3794 L 2369 3372 L 1659 3372 L 1659 1325 Q 2081 1516 2481 1722 L 2566 1313 Q 1556 778 559 397 L 334 838 Q 803 975 1206 1138 L 1206 3372 L 413 3372 L 413 3794 L 1206 3794 z M 3475 4244 L 5844 4244 Q 5834 1131 5619 184 Q 5494 -366 4838 -366 Q 4369 -366 3859 -306 L 3769 184 Q 4241 88 4731 88 Q 5059 88 5147 306 Q 5359 919 5369 3828 L 3316 3828 Q 3013 3119 2466 2472 L 2150 2828 Q 2944 3788 3259 5263 L 3719 5147 Q 3619 4663 3475 4244 z M 2978 2847 L 4681 2847 L 4681 2431 L 2978 2431 L 2978 2847 z M 2559 1044 Q 3747 1338 4838 1797 L 4891 1388 Q 3831 891 2766 588 L 2559 1044 z " transform="scale(0.015625)" style="stroke:#000;stroke-width:70;stroke-linejoin:miter"/> </defs> <use href="#IPAGothic-5e73"/> <use href="#IPAGothic-5747" transform="translate(100 0)"/> <use href="#IPAGothic-5024" transform="translate(200 0)"/> </g> </g> <g id="line2d_82" transform="translate(0 0.3096)"> <path d="M 642.2 54.285375 L 652.2 54.285375 L 662.2 54.285375 " style="fill: none; stroke: #ffa500; stroke-width: 1.5; stroke-linecap: square"/> <g> <use href="#md67da49e89" x="652.6800" y="54.3600" style="fill: #ffa500; stroke: #ffa500"/> </g> </g> <g id="text_43" transform="translate(0.3600 0.7416) translate(670.2000 0) scale(0.9500 1) translate(-670.2000 0)">  <g transform="translate(670.2 57.785375) scale(0.1 -0.1)"> <defs> <path id="IPAGothic-4e2d" d="M 2925 3950 L 2925 5209 L 3425 5209 L 3425 3950 L 5613 3950 L 5613 1125 L 5125 1125 L 5125 1594 L 3425 1594 L 3425 -447 L 2925 -447 L 2925 1594 L 1263 1594 L 1263 1094 L 775 1094 L 775 3950 L 2925 3950 z M 1263 3534 L 1263 2009 L 2925 2009 L 2925 3534 L 1263 3534 z M 5125 2009 L 5125 3534 L 3425 3534 L 3425 2009 L 5125 2009 z " transform="scale(0.015625)" style="stroke:#000;stroke-width:70;stroke-linejoin:miter"/> <path id="IPAGothic-592e" d="M 3578 1947 Q 4238 694 5972 134 L 5634 -294 Q 3847 378 3253 1750 Q 2916 216 809 -403 L 506 16 Q 2547 475 2894 1947 L 353 1947 L 353 2363 L 1256 2363 L 1256 4178 L 2938 4178 L 2938 5216 L 3413 5216 L 3413 4178 L 5141 4178 L 5141 2363 L 6044 2363 L 6044 1947 L 3578 1947 z M 2938 3763 L 1703 3763 L 1703 2363 L 2938 2363 L 2938 3763 z M 3413 3763 L 3413 2363 L 4688 2363 L 4688 3763 L 3413 3763 z " transform="scale(0.015625)" style="stroke:#000;stroke-width:70;stroke-linejoin:miter"/> </defs> <use href="#IPAGothic-4e2d"/> <use href="#IPAGothic-592e" transform="translate(100 0)"/> <use href="#IPAGothic-5024" transform="translate(200 0)"/> </g> </g> <g id="line2d_83" transform="translate(0 0.6192)"> <path d="M 642.2 68.440062 L 652.2 68.440062 L 662.2 68.440062 " style="fill: none; stroke: #ff4b4b; stroke-width: 1.5; stroke-linecap: square"/> <g> <use href="#m23e8ac8519" x="652.6800" y="68.7600" style="fill: #ff4b4b; stroke: #ff4b4b"/> </g> </g> <g id="text_44" transform="translate(0.3600 1.0512) translate(670.2000 0) scale(0.9500 1) translate(-670.2000 0)">  <g transform="translate(670.2 71.940062) scale(0.1 -0.1)"> <defs> <path id="IPAGothic-6700" d="M 5106 5050 L 5106 3275 L 1288 3275 L 1288 5050 L 5106 5050 z M 1741 4697 L 1741 4331 L 4659 4331 L 4659 4697 L 1741 4697 z M 1741 4000 L 1741 3622 L 4659 3622 L 4659 4000 L 1741 4000 z M 2925 2528 L 2925 -447 L 2503 -447 L 2503 231 Q 1875 97 525 -75 L 409 359 Q 491 363 609 372 Q 728 381 756 384 L 994 403 L 994 2528 L 384 2528 L 384 2900 L 6016 2900 L 6016 2528 L 2925 2528 z M 2503 2528 L 1403 2528 L 1403 2088 L 2503 2088 L 2503 2528 z M 2503 1763 L 1403 1763 L 1403 1309 L 2503 1309 L 2503 1763 z M 2503 984 L 1403 984 L 1403 434 L 1763 472 Q 2159 500 2503 550 L 2503 984 z M 4844 588 Q 5350 225 6047 -9 L 5753 -419 Q 5066 -128 4556 288 Q 4000 -241 3281 -534 L 3006 -163 Q 3738 84 4263 563 Q 3722 1141 3463 1803 L 3084 1803 L 3084 2169 L 5428 2169 L 5656 1963 Q 5328 1178 4881 638 L 4844 588 z M 4538 850 Q 4884 1275 5119 1803 L 3872 1803 Q 4113 1275 4538 850 z " transform="scale(0.015625)" style="stroke:#000;stroke-width:70;stroke-linejoin:miter"/> <path id="IPAGothic-9ad8" d="M 4481 1588 L 4481 366 L 2319 366 L 2319 0 L 1891 0 L 1891 1588 L 4481 1588 z M 4053 1247 L 2319 1247 L 2319 706 L 4053 706 L 4053 1247 z M 3419 4641 L 5916 4641 L 5916 4263 L 481 4263 L 481 4641 L 2938 4641 L 2938 5313 L 3419 5313 L 3419 4641 z M 4884 3878 L 4884 2694 L 1513 2694 L 1513 3878 L 4884 3878 z M 1959 3531 L 1959 3041 L 4438 3041 L 4438 3531 L 1959 3531 z M 5684 2309 L 5684 103 Q 5684 -378 5091 -378 Q 4703 -378 4316 -350 L 4253 109 Q 4706 44 5006 44 Q 5231 44 5231 250 L 5231 1944 L 1166 1944 L 1166 -447 L 713 -447 L 713 2309 L 5684 2309 z " transform="scale(0.015625)" style="stroke:#000;stroke-width:70;stroke-linejoin:miter"/> </defs> <use href="#IPAGothic-6700"/> <use href="#IPAGothic-9ad8" transform="translate(100 0)"/> <use href="#IPAGothic-5024" transform="translate(200 0)"/> </g> </g> <g id="line2d_84" transform="translate(0 0.9288)"> <path d="M 642.2 82.59475 L 652.2 82.59475 L 662.2 82.59475 " style="fill: none; stroke: #4b9bff; stroke-width: 1.5; stroke-linecap: square"/> <g> <use href="#m3b134a0e1f" x="652.6800" y="83.1600" style="fill: #4b9bff; stroke: #4b9bff"/> </g> </g> <g id="text_45" transform="translate(0.3600 1.3608) translate(670.2000 0) scale(0.9500 1) translate(-670.2000 0)">  <g transform="translate(670.2 86.09475) scale(0.1 -0.1)"> <defs> <path id="IPAGothic-5b89" d="M 4728 2381 Q 4484 1484 3969 872 Q 5038 403 5778 31 L 5397 -353 Q 4466 163 3616 538 Q 2703 -194 838 -403 L 550 31 Q 2272 166 3150 738 Q 2625 963 1925 1216 Q 1863 1119 1663 831 L 1259 1050 Q 1684 1650 2088 2381 L 416 2381 L 416 2784 L 2284 2784 Q 2563 3388 2713 3828 L 3169 3706 Q 2972 3178 2791 2784 L 5984 2784 L 5984 2381 L 4728 2381 z M 4244 2381 L 2600 2381 Q 2459 2097 2209 1659 L 2150 1563 Q 2750 1359 3366 1113 L 3525 1050 Q 4019 1572 4244 2381 z M 3419 4428 L 5753 4428 L 5753 3163 L 5278 3163 L 5278 4025 L 1116 4025 L 1116 3163 L 641 3163 L 641 4428 L 2931 4428 L 2931 5313 L 3419 5313 L 3419 4428 z " transform="scale(0.015625)" style="stroke:#000;stroke-width:70;stroke-linejoin:miter"/> </defs> <use href="#IPAGothic-6700"/> <use href="#IPAGothic-5b89" transform="translate(100 0)"/> <use href="#IPAGothic-5024" transform="translate(200 0)"/> </g> </g> </g> </g> </g> <defs> <clipPath id="p0dbeb6fd4e"> <rect x="61.5888" y="26.676" width="647.6112" height="332.1"/> </clipPath> </defs> </svg> 
</body></html>
